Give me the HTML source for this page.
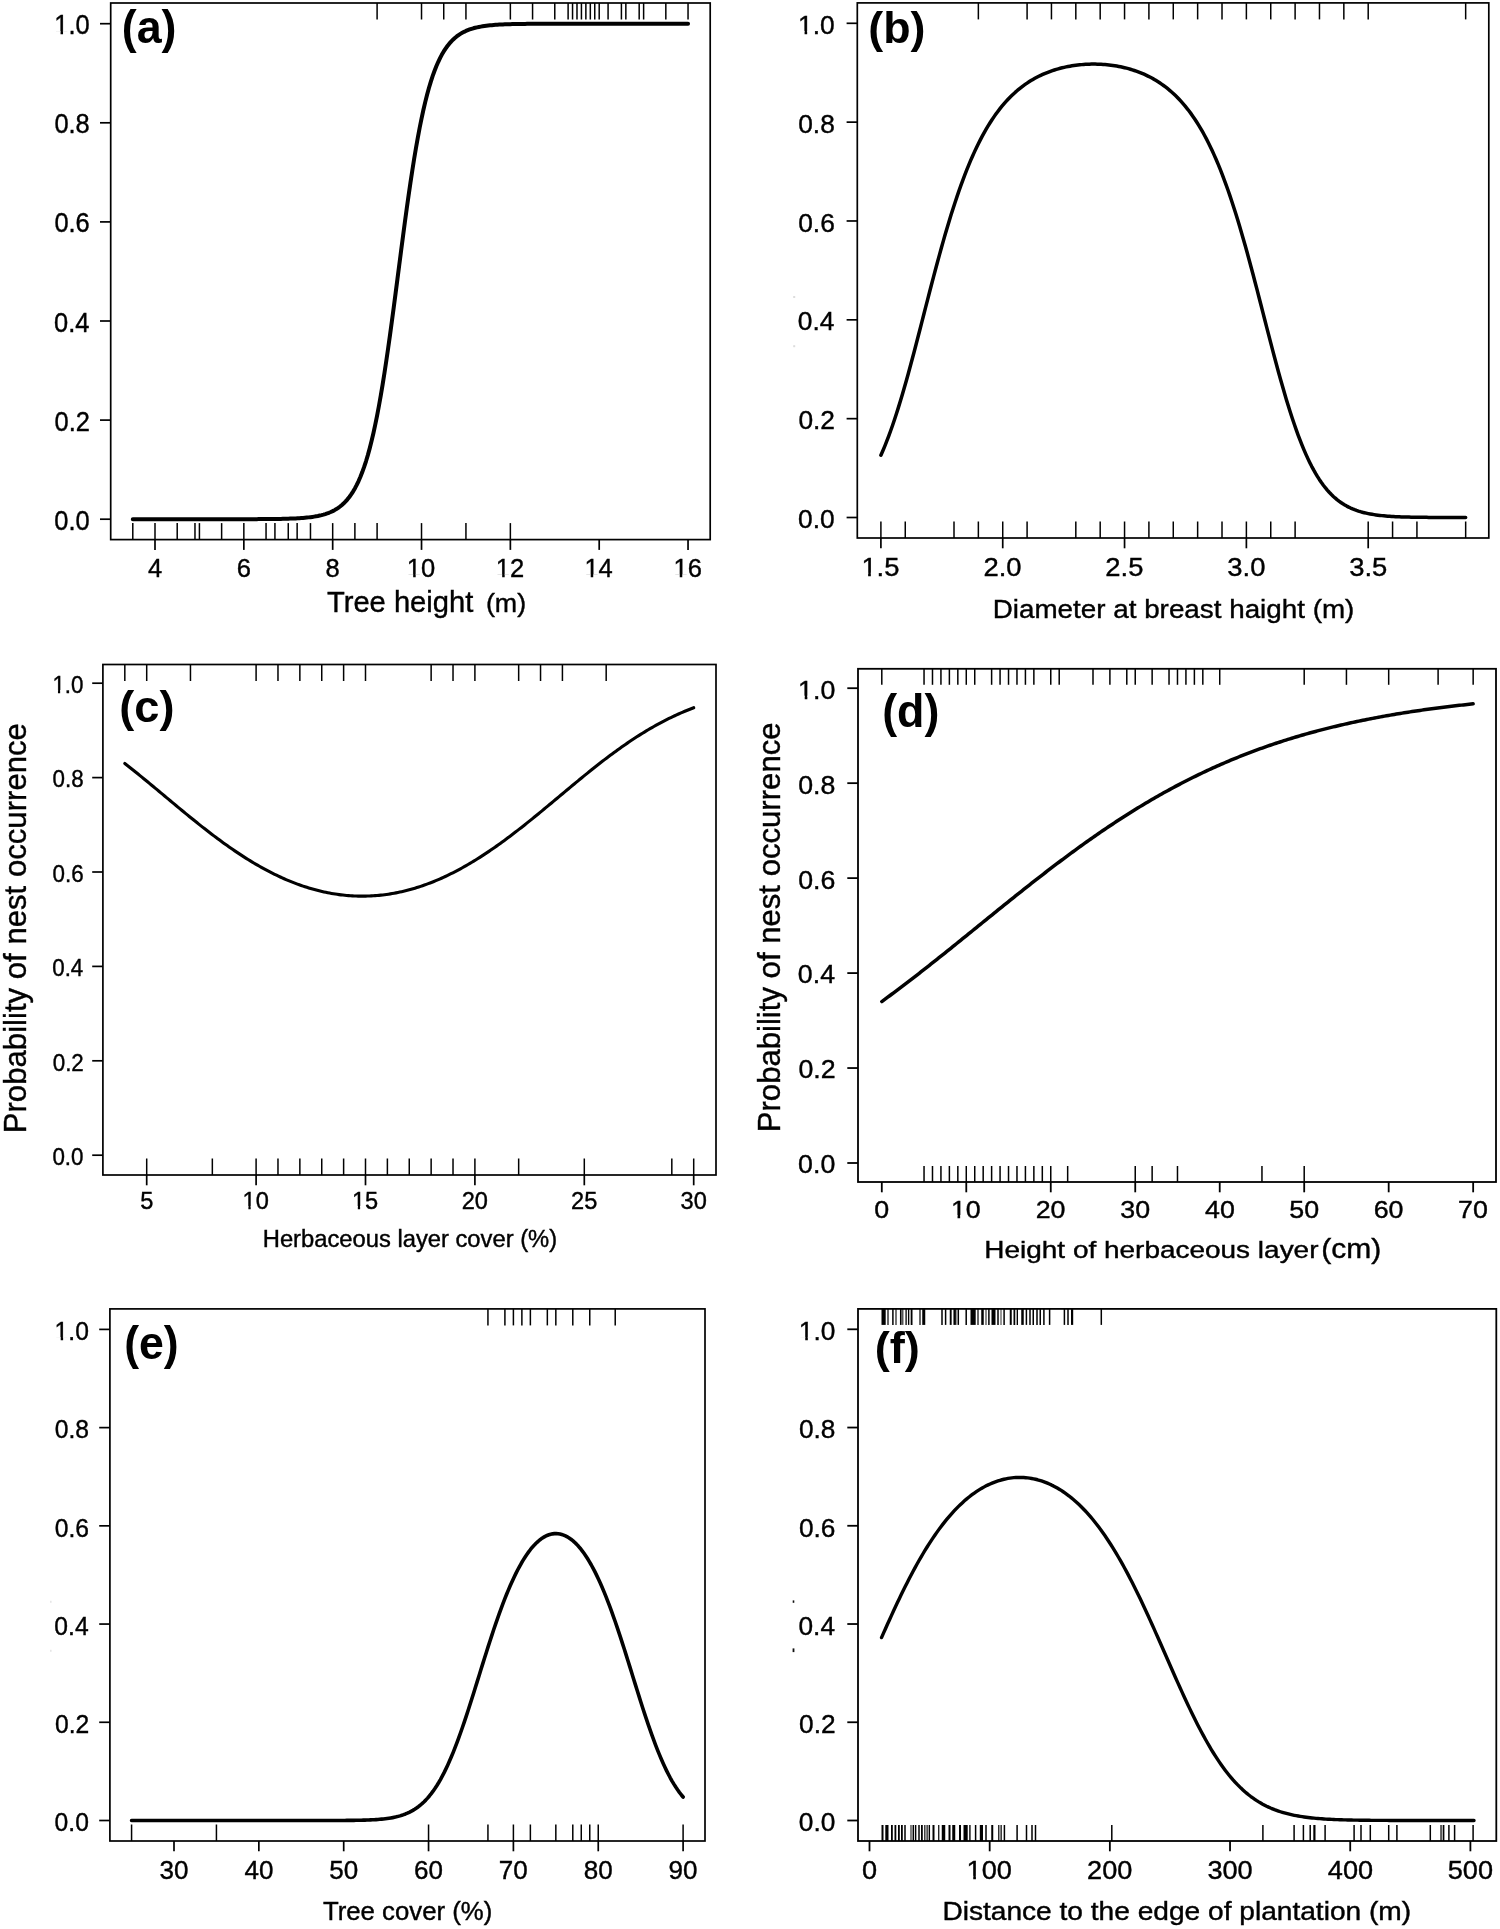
<!DOCTYPE html>
<html><head><meta charset="utf-8"><title>Probability of nest occurrence</title>
<style>
html,body{margin:0;padding:0;background:#fff;}
body{width:1500px;height:1929px;overflow:hidden;font-family:'Liberation Sans',sans-serif;}
svg{display:block;will-change:transform;opacity:0.999;}
text{fill:#000;}
</style></head><body>
<svg width="1500" height="1929" viewBox="0 0 1500 1929">
<rect x="0" y="0" width="1500" height="1929" fill="#fff"/>
<line x1="100" y1="519.2" x2="110.7" y2="519.2" stroke="#000" stroke-width="1.7" stroke-linecap="butt"/>
<text transform="translate(54.27 529.7) scale(0.9500 1)" style="font-family:'Liberation Sans',sans-serif;font-size:26.8px;font-weight:normal;stroke:#000;stroke-width:0.4px">0.0</text>
<line x1="100" y1="420.1" x2="110.7" y2="420.1" stroke="#000" stroke-width="1.7" stroke-linecap="butt"/>
<text transform="translate(54.58 430.6) scale(0.9500 1)" style="font-family:'Liberation Sans',sans-serif;font-size:26.8px;font-weight:normal;stroke:#000;stroke-width:0.4px">0.2</text>
<line x1="100" y1="321" x2="110.7" y2="321" stroke="#000" stroke-width="1.7" stroke-linecap="butt"/>
<text transform="translate(54.01 331.5) scale(0.9500 1)" style="font-family:'Liberation Sans',sans-serif;font-size:26.8px;font-weight:normal;stroke:#000;stroke-width:0.4px">0.4</text>
<line x1="100" y1="221.9" x2="110.7" y2="221.9" stroke="#000" stroke-width="1.7" stroke-linecap="butt"/>
<text transform="translate(54.39 232.4) scale(0.9500 1)" style="font-family:'Liberation Sans',sans-serif;font-size:26.8px;font-weight:normal;stroke:#000;stroke-width:0.4px">0.6</text>
<line x1="100" y1="122.8" x2="110.7" y2="122.8" stroke="#000" stroke-width="1.7" stroke-linecap="butt"/>
<text transform="translate(54.39 133.3) scale(0.9500 1)" style="font-family:'Liberation Sans',sans-serif;font-size:26.8px;font-weight:normal;stroke:#000;stroke-width:0.4px">0.8</text>
<line x1="100" y1="23.7" x2="110.7" y2="23.7" stroke="#000" stroke-width="1.7" stroke-linecap="butt"/>
<text transform="translate(54.27 34.2) scale(0.9500 1)" style="font-family:'Liberation Sans',sans-serif;font-size:26.8px;font-weight:normal;stroke:#000;stroke-width:0.4px">1.0</text>
<rect x="54.02" y="31.2" width="6.53" height="4.6" fill="#fff"/>
<rect x="63.04" y="31.2" width="5.21" height="4.6" fill="#fff"/>
<line x1="155" y1="539.6" x2="155" y2="549.9" stroke="#000" stroke-width="1.7" stroke-linecap="butt"/>
<text transform="translate(147.98 577.4) scale(0.9600 1)" style="font-family:'Liberation Sans',sans-serif;font-size:26.6px;font-weight:normal;stroke:#000;stroke-width:0.4px">4</text>
<line x1="243.84" y1="539.6" x2="243.84" y2="549.9" stroke="#000" stroke-width="1.7" stroke-linecap="butt"/>
<text transform="translate(236.66 577.4) scale(0.9600 1)" style="font-family:'Liberation Sans',sans-serif;font-size:26.6px;font-weight:normal;stroke:#000;stroke-width:0.4px">6</text>
<line x1="332.68" y1="539.6" x2="332.68" y2="549.9" stroke="#000" stroke-width="1.7" stroke-linecap="butt"/>
<text transform="translate(325.59 577.4) scale(0.9600 1)" style="font-family:'Liberation Sans',sans-serif;font-size:26.6px;font-weight:normal;stroke:#000;stroke-width:0.4px">8</text>
<line x1="421.52" y1="539.6" x2="421.52" y2="549.9" stroke="#000" stroke-width="1.7" stroke-linecap="butt"/>
<text transform="translate(406.87 577.4) scale(0.9600 1)" style="font-family:'Liberation Sans',sans-serif;font-size:26.6px;font-weight:normal;stroke:#000;stroke-width:0.4px">10</text>
<rect x="406.62" y="574.41" width="6.55" height="4.59" fill="#fff"/>
<rect x="415.67" y="574.41" width="5.22" height="4.59" fill="#fff"/>
<line x1="510.36" y1="539.6" x2="510.36" y2="549.9" stroke="#000" stroke-width="1.7" stroke-linecap="butt"/>
<text transform="translate(495.87 577.4) scale(0.9600 1)" style="font-family:'Liberation Sans',sans-serif;font-size:26.6px;font-weight:normal;stroke:#000;stroke-width:0.4px">12</text>
<rect x="495.62" y="574.41" width="6.55" height="4.59" fill="#fff"/>
<rect x="504.67" y="574.41" width="5.22" height="4.59" fill="#fff"/>
<line x1="599.2" y1="539.6" x2="599.2" y2="549.9" stroke="#000" stroke-width="1.7" stroke-linecap="butt"/>
<text transform="translate(584.42 577.4) scale(0.9600 1)" style="font-family:'Liberation Sans',sans-serif;font-size:26.6px;font-weight:normal;stroke:#000;stroke-width:0.4px">14</text>
<rect x="584.17" y="574.41" width="6.55" height="4.59" fill="#fff"/>
<rect x="593.22" y="574.41" width="5.22" height="4.59" fill="#fff"/>
<line x1="688.04" y1="539.6" x2="688.04" y2="549.9" stroke="#000" stroke-width="1.7" stroke-linecap="butt"/>
<text transform="translate(673.45 577.4) scale(0.9600 1)" style="font-family:'Liberation Sans',sans-serif;font-size:26.6px;font-weight:normal;stroke:#000;stroke-width:0.4px">16</text>
<rect x="673.2" y="574.41" width="6.55" height="4.59" fill="#fff"/>
<rect x="682.26" y="574.41" width="5.22" height="4.59" fill="#fff"/>
<line x1="377.1" y1="3" x2="377.1" y2="19.5" stroke="#000" stroke-width="1.5" stroke-linecap="butt"/>
<line x1="421.52" y1="3" x2="421.52" y2="19.5" stroke="#000" stroke-width="1.5" stroke-linecap="butt"/>
<line x1="443.73" y1="3" x2="443.73" y2="19.5" stroke="#000" stroke-width="1.5" stroke-linecap="butt"/>
<line x1="465.94" y1="3" x2="465.94" y2="19.5" stroke="#000" stroke-width="1.5" stroke-linecap="butt"/>
<line x1="510.36" y1="3" x2="510.36" y2="19.5" stroke="#000" stroke-width="1.5" stroke-linecap="butt"/>
<line x1="532.57" y1="3" x2="532.57" y2="19.5" stroke="#000" stroke-width="1.5" stroke-linecap="butt"/>
<line x1="554.78" y1="3" x2="554.78" y2="19.5" stroke="#000" stroke-width="1.5" stroke-linecap="butt"/>
<line x1="568.11" y1="3" x2="568.11" y2="19.5" stroke="#000" stroke-width="1.5" stroke-linecap="butt"/>
<line x1="572.55" y1="3" x2="572.55" y2="19.5" stroke="#000" stroke-width="1.5" stroke-linecap="butt"/>
<line x1="576.99" y1="3" x2="576.99" y2="19.5" stroke="#000" stroke-width="1.5" stroke-linecap="butt"/>
<line x1="581.43" y1="3" x2="581.43" y2="19.5" stroke="#000" stroke-width="1.5" stroke-linecap="butt"/>
<line x1="585.87" y1="3" x2="585.87" y2="19.5" stroke="#000" stroke-width="1.5" stroke-linecap="butt"/>
<line x1="590.32" y1="3" x2="590.32" y2="19.5" stroke="#000" stroke-width="1.5" stroke-linecap="butt"/>
<line x1="594.76" y1="3" x2="594.76" y2="19.5" stroke="#000" stroke-width="1.5" stroke-linecap="butt"/>
<line x1="599.2" y1="3" x2="599.2" y2="19.5" stroke="#000" stroke-width="1.5" stroke-linecap="butt"/>
<line x1="608.08" y1="3" x2="608.08" y2="19.5" stroke="#000" stroke-width="1.5" stroke-linecap="butt"/>
<line x1="621.41" y1="3" x2="621.41" y2="19.5" stroke="#000" stroke-width="1.5" stroke-linecap="butt"/>
<line x1="625.85" y1="3" x2="625.85" y2="19.5" stroke="#000" stroke-width="1.5" stroke-linecap="butt"/>
<line x1="639.18" y1="3" x2="639.18" y2="19.5" stroke="#000" stroke-width="1.5" stroke-linecap="butt"/>
<line x1="643.62" y1="3" x2="643.62" y2="19.5" stroke="#000" stroke-width="1.5" stroke-linecap="butt"/>
<line x1="665.83" y1="3" x2="665.83" y2="19.5" stroke="#000" stroke-width="1.5" stroke-linecap="butt"/>
<line x1="688.04" y1="3" x2="688.04" y2="19.5" stroke="#000" stroke-width="1.5" stroke-linecap="butt"/>
<line x1="132.79" y1="523.1" x2="132.79" y2="539.6" stroke="#000" stroke-width="1.5" stroke-linecap="butt"/>
<line x1="155" y1="523.1" x2="155" y2="539.6" stroke="#000" stroke-width="1.5" stroke-linecap="butt"/>
<line x1="177.21" y1="523.1" x2="177.21" y2="539.6" stroke="#000" stroke-width="1.5" stroke-linecap="butt"/>
<line x1="194.98" y1="523.1" x2="194.98" y2="539.6" stroke="#000" stroke-width="1.5" stroke-linecap="butt"/>
<line x1="199.42" y1="523.1" x2="199.42" y2="539.6" stroke="#000" stroke-width="1.5" stroke-linecap="butt"/>
<line x1="221.63" y1="523.1" x2="221.63" y2="539.6" stroke="#000" stroke-width="1.5" stroke-linecap="butt"/>
<line x1="243.84" y1="523.1" x2="243.84" y2="539.6" stroke="#000" stroke-width="1.5" stroke-linecap="butt"/>
<line x1="266.05" y1="523.1" x2="266.05" y2="539.6" stroke="#000" stroke-width="1.5" stroke-linecap="butt"/>
<line x1="274.93" y1="523.1" x2="274.93" y2="539.6" stroke="#000" stroke-width="1.5" stroke-linecap="butt"/>
<line x1="288.26" y1="523.1" x2="288.26" y2="539.6" stroke="#000" stroke-width="1.5" stroke-linecap="butt"/>
<line x1="297.14" y1="523.1" x2="297.14" y2="539.6" stroke="#000" stroke-width="1.5" stroke-linecap="butt"/>
<line x1="310.47" y1="523.1" x2="310.47" y2="539.6" stroke="#000" stroke-width="1.5" stroke-linecap="butt"/>
<line x1="332.68" y1="523.1" x2="332.68" y2="539.6" stroke="#000" stroke-width="1.5" stroke-linecap="butt"/>
<line x1="354.89" y1="523.1" x2="354.89" y2="539.6" stroke="#000" stroke-width="1.5" stroke-linecap="butt"/>
<line x1="377.1" y1="523.1" x2="377.1" y2="539.6" stroke="#000" stroke-width="1.5" stroke-linecap="butt"/>
<line x1="421.52" y1="523.1" x2="421.52" y2="539.6" stroke="#000" stroke-width="1.5" stroke-linecap="butt"/>
<line x1="465.94" y1="523.1" x2="465.94" y2="539.6" stroke="#000" stroke-width="1.5" stroke-linecap="butt"/>
<line x1="510.36" y1="523.1" x2="510.36" y2="539.6" stroke="#000" stroke-width="1.5" stroke-linecap="butt"/>
<polyline points="132.79,519.2 134.64,519.2 136.49,519.2 138.34,519.2 140.19,519.2 142.04,519.2 143.9,519.2 145.75,519.2 147.6,519.2 149.45,519.2 151.3,519.2 153.15,519.2 155,519.2 156.85,519.2 158.7,519.2 160.55,519.2 162.4,519.2 164.25,519.2 166.1,519.2 167.96,519.2 169.81,519.2 171.66,519.2 173.51,519.2 175.36,519.2 177.21,519.2 179.06,519.2 180.91,519.2 182.76,519.2 184.61,519.2 186.46,519.2 188.31,519.2 190.17,519.2 192.02,519.2 193.87,519.2 195.72,519.2 197.57,519.2 199.42,519.2 201.27,519.2 203.12,519.2 204.97,519.2 206.82,519.2 208.67,519.2 210.53,519.2 212.38,519.2 214.23,519.19 216.08,519.19 217.93,519.19 219.78,519.19 221.63,519.19 223.48,519.19 225.33,519.19 227.18,519.19 229.03,519.19 230.88,519.19 232.74,519.18 234.59,519.18 236.44,519.18 238.29,519.18 240.14,519.17 241.99,519.17 243.84,519.17 245.69,519.16 247.54,519.16 249.39,519.15 251.24,519.15 253.09,519.14 254.94,519.14 256.8,519.13 258.65,519.12 260.5,519.11 262.35,519.1 264.2,519.09 266.05,519.07 267.9,519.06 269.75,519.04 271.6,519.02 273.45,519 275.3,518.97 277.15,518.94 279.01,518.91 280.86,518.88 282.71,518.84 284.56,518.79 286.41,518.74 288.26,518.69 290.11,518.62 291.96,518.55 293.81,518.47 295.66,518.38 297.51,518.28 299.37,518.17 301.22,518.05 303.07,517.91 304.92,517.75 306.77,517.57 308.62,517.37 310.47,517.15 312.32,516.9 314.17,516.62 316.02,516.31 317.87,515.96 319.72,515.56 321.58,515.12 323.43,514.63 325.28,514.08 327.13,513.46 328.98,512.76 330.83,511.99 332.68,511.12 334.53,510.15 336.38,509.06 338.23,507.85 340.08,506.5 341.93,504.99 343.78,503.31 345.64,501.43 347.49,499.35 349.34,497.03 351.19,494.45 353.04,491.59 354.89,488.42 356.74,484.92 358.59,481.04 360.44,476.78 362.29,472.08 364.14,466.92 366,461.28 367.85,455.11 369.7,448.38 371.55,441.09 373.4,433.19 375.25,424.67 377.1,415.53 378.95,405.75 380.8,395.34 382.65,384.31 384.5,372.69 386.35,360.5 388.21,347.81 390.06,334.65 391.91,321.1 393.76,307.23 395.61,293.13 397.46,278.88 399.31,264.59 401.16,250.34 403.01,236.23 404.86,222.35 406.71,208.79 408.56,195.61 410.42,182.89 412.27,170.69 414.12,159.04 415.97,147.99 417.82,137.55 419.67,127.75 421.52,118.58 423.37,110.04 425.22,102.12 427.07,94.8 428.92,88.05 430.77,81.86 432.62,76.19 434.48,71.02 436.33,66.3 438.18,62.02 440.03,58.13 441.88,54.61 443.73,51.43 445.58,48.56 447.43,45.97 449.28,43.64 451.13,41.55 452.98,39.66 454.84,37.97 456.69,36.46 458.54,35.1 460.39,33.88 462.24,32.79 464.09,31.82 465.94,30.95 467.79,30.17 469.64,29.47 471.49,28.85 473.34,28.29 475.19,27.8 477.05,27.35 478.9,26.96 480.75,26.6 482.6,26.29 484.45,26.01 486.3,25.76 488.15,25.53 490,25.33 491.85,25.16 493.7,25 495.55,24.86 497.4,24.73 499.25,24.62 501.11,24.52 502.96,24.43 504.81,24.35 506.66,24.28 508.51,24.22 510.36,24.16 512.21,24.11 514.06,24.07 515.91,24.03 517.76,23.99 519.61,23.96 521.47,23.93 523.32,23.91 525.17,23.88 527.02,23.86 528.87,23.85 530.72,23.83 532.57,23.82 534.42,23.8 536.27,23.79 538.12,23.78 539.97,23.77 541.82,23.76 543.67,23.76 545.53,23.75 547.38,23.75 549.23,23.74 551.08,23.74 552.93,23.73 554.78,23.73 556.63,23.73 558.48,23.72 560.33,23.72 562.18,23.72 564.03,23.72 565.88,23.71 567.74,23.71 569.59,23.71 571.44,23.71 573.29,23.71 575.14,23.71 576.99,23.71 578.84,23.71 580.69,23.71 582.54,23.71 584.39,23.7 586.24,23.7 588.1,23.7 589.95,23.7 591.8,23.7 593.65,23.7 595.5,23.7 597.35,23.7 599.2,23.7 601.05,23.7 602.9,23.7 604.75,23.7 606.6,23.7 608.45,23.7 610.31,23.7 612.16,23.7 614.01,23.7 615.86,23.7 617.71,23.7 619.56,23.7 621.41,23.7 623.26,23.7 625.11,23.7 626.96,23.7 628.81,23.7 630.66,23.7 632.52,23.7 634.37,23.7 636.22,23.7 638.07,23.7 639.92,23.7 641.77,23.7 643.62,23.7 645.47,23.7 647.32,23.7 649.17,23.7 651.02,23.7 652.87,23.7 654.73,23.7 656.58,23.7 658.43,23.7 660.28,23.7 662.13,23.7 663.98,23.7 665.83,23.7 667.68,23.7 669.53,23.7 671.38,23.7 673.23,23.7 675.08,23.7 676.94,23.7 678.79,23.7 680.64,23.7 682.49,23.7 684.34,23.7 686.19,23.7 688.04,23.7" fill="none" stroke="#000" stroke-width="4" stroke-linecap="round" stroke-linejoin="round"/>
<rect x="110.7" y="3" width="599.5" height="536.6" fill="none" stroke="#000" stroke-width="1.7"/>
<text transform="translate(121.76 43.2) scale(0.9786 1)" style="font-family:'Liberation Sans',sans-serif;font-size:45.79px;font-weight:bold">(a)</text>
<text transform="translate(326.94 611.6) scale(0.9853 1)" style="font-family:'Liberation Sans',sans-serif;font-size:29.6px;font-weight:normal;stroke:#000;stroke-width:0.4px">Tree height</text>
<text transform="translate(485.92 611.6) scale(1.0312 1)" style="font-family:'Liberation Sans',sans-serif;font-size:26px;font-weight:normal;stroke:#000;stroke-width:0.4px">(m)</text>
<line x1="846.6" y1="517.5" x2="857.3" y2="517.5" stroke="#000" stroke-width="1.7" stroke-linecap="butt"/>
<text transform="translate(798.08 528.1) scale(0.9900 1)" style="font-family:'Liberation Sans',sans-serif;font-size:26.6px;font-weight:normal;stroke:#000;stroke-width:0.4px">0.0</text>
<line x1="846.6" y1="418.66" x2="857.3" y2="418.66" stroke="#000" stroke-width="1.7" stroke-linecap="butt"/>
<text transform="translate(798.41 429.26) scale(0.9900 1)" style="font-family:'Liberation Sans',sans-serif;font-size:26.6px;font-weight:normal;stroke:#000;stroke-width:0.4px">0.2</text>
<line x1="846.6" y1="319.82" x2="857.3" y2="319.82" stroke="#000" stroke-width="1.7" stroke-linecap="butt"/>
<text transform="translate(797.82 330.42) scale(0.9900 1)" style="font-family:'Liberation Sans',sans-serif;font-size:26.6px;font-weight:normal;stroke:#000;stroke-width:0.4px">0.4</text>
<line x1="846.6" y1="220.98" x2="857.3" y2="220.98" stroke="#000" stroke-width="1.7" stroke-linecap="butt"/>
<text transform="translate(798.21 231.58) scale(0.9900 1)" style="font-family:'Liberation Sans',sans-serif;font-size:26.6px;font-weight:normal;stroke:#000;stroke-width:0.4px">0.6</text>
<line x1="846.6" y1="122.14" x2="857.3" y2="122.14" stroke="#000" stroke-width="1.7" stroke-linecap="butt"/>
<text transform="translate(798.21 132.74) scale(0.9900 1)" style="font-family:'Liberation Sans',sans-serif;font-size:26.6px;font-weight:normal;stroke:#000;stroke-width:0.4px">0.8</text>
<line x1="846.6" y1="23.3" x2="857.3" y2="23.3" stroke="#000" stroke-width="1.7" stroke-linecap="butt"/>
<text transform="translate(798.08 33.9) scale(0.9900 1)" style="font-family:'Liberation Sans',sans-serif;font-size:26.6px;font-weight:normal;stroke:#000;stroke-width:0.4px">1.0</text>
<rect x="797.83" y="30.91" width="6.75" height="4.59" fill="#fff"/>
<rect x="807.16" y="30.91" width="5.39" height="4.59" fill="#fff"/>
<line x1="880.9" y1="538" x2="880.9" y2="548.3" stroke="#000" stroke-width="1.7" stroke-linecap="butt"/>
<text transform="translate(861.38 575.6) scale(1.0300 1)" style="font-family:'Liberation Sans',sans-serif;font-size:26.6px;font-weight:normal;stroke:#000;stroke-width:0.4px">1.5</text>
<rect x="861.11" y="572.61" width="7.02" height="4.59" fill="#fff"/>
<rect x="870.82" y="572.61" width="5.61" height="4.59" fill="#fff"/>
<line x1="1002.73" y1="538" x2="1002.73" y2="548.3" stroke="#000" stroke-width="1.7" stroke-linecap="butt"/>
<text transform="translate(983.51 575.6) scale(1.0300 1)" style="font-family:'Liberation Sans',sans-serif;font-size:26.6px;font-weight:normal;stroke:#000;stroke-width:0.4px">2.0</text>
<line x1="1124.55" y1="538" x2="1124.55" y2="548.3" stroke="#000" stroke-width="1.7" stroke-linecap="butt"/>
<text transform="translate(1105.37 575.6) scale(1.0300 1)" style="font-family:'Liberation Sans',sans-serif;font-size:26.6px;font-weight:normal;stroke:#000;stroke-width:0.4px">2.5</text>
<line x1="1246.38" y1="538" x2="1246.38" y2="548.3" stroke="#000" stroke-width="1.7" stroke-linecap="butt"/>
<text transform="translate(1227.33 575.6) scale(1.0300 1)" style="font-family:'Liberation Sans',sans-serif;font-size:26.6px;font-weight:normal;stroke:#000;stroke-width:0.4px">3.0</text>
<line x1="1368.2" y1="538" x2="1368.2" y2="548.3" stroke="#000" stroke-width="1.7" stroke-linecap="butt"/>
<text transform="translate(1349.19 575.6) scale(1.0300 1)" style="font-family:'Liberation Sans',sans-serif;font-size:26.6px;font-weight:normal;stroke:#000;stroke-width:0.4px">3.5</text>
<line x1="978.36" y1="2.9" x2="978.36" y2="19.4" stroke="#000" stroke-width="1.5" stroke-linecap="butt"/>
<line x1="1027.09" y1="2.9" x2="1027.09" y2="19.4" stroke="#000" stroke-width="1.5" stroke-linecap="butt"/>
<line x1="1051.45" y1="2.9" x2="1051.45" y2="19.4" stroke="#000" stroke-width="1.5" stroke-linecap="butt"/>
<line x1="1075.82" y1="2.9" x2="1075.82" y2="19.4" stroke="#000" stroke-width="1.5" stroke-linecap="butt"/>
<line x1="1100.18" y1="2.9" x2="1100.18" y2="19.4" stroke="#000" stroke-width="1.5" stroke-linecap="butt"/>
<line x1="1124.55" y1="2.9" x2="1124.55" y2="19.4" stroke="#000" stroke-width="1.5" stroke-linecap="butt"/>
<line x1="1148.91" y1="2.9" x2="1148.91" y2="19.4" stroke="#000" stroke-width="1.5" stroke-linecap="butt"/>
<line x1="1173.28" y1="2.9" x2="1173.28" y2="19.4" stroke="#000" stroke-width="1.5" stroke-linecap="butt"/>
<line x1="1197.64" y1="2.9" x2="1197.64" y2="19.4" stroke="#000" stroke-width="1.5" stroke-linecap="butt"/>
<line x1="1222.01" y1="2.9" x2="1222.01" y2="19.4" stroke="#000" stroke-width="1.5" stroke-linecap="butt"/>
<line x1="1246.38" y1="2.9" x2="1246.38" y2="19.4" stroke="#000" stroke-width="1.5" stroke-linecap="butt"/>
<line x1="1270.74" y1="2.9" x2="1270.74" y2="19.4" stroke="#000" stroke-width="1.5" stroke-linecap="butt"/>
<line x1="1295.11" y1="2.9" x2="1295.11" y2="19.4" stroke="#000" stroke-width="1.5" stroke-linecap="butt"/>
<line x1="1319.47" y1="2.9" x2="1319.47" y2="19.4" stroke="#000" stroke-width="1.5" stroke-linecap="butt"/>
<line x1="1343.84" y1="2.9" x2="1343.84" y2="19.4" stroke="#000" stroke-width="1.5" stroke-linecap="butt"/>
<line x1="1368.2" y1="2.9" x2="1368.2" y2="19.4" stroke="#000" stroke-width="1.5" stroke-linecap="butt"/>
<line x1="1465.66" y1="2.9" x2="1465.66" y2="19.4" stroke="#000" stroke-width="1.5" stroke-linecap="butt"/>
<line x1="880.9" y1="521.5" x2="880.9" y2="538" stroke="#000" stroke-width="1.5" stroke-linecap="butt"/>
<line x1="905.26" y1="521.5" x2="905.26" y2="538" stroke="#000" stroke-width="1.5" stroke-linecap="butt"/>
<line x1="954" y1="521.5" x2="954" y2="538" stroke="#000" stroke-width="1.5" stroke-linecap="butt"/>
<line x1="978.36" y1="521.5" x2="978.36" y2="538" stroke="#000" stroke-width="1.5" stroke-linecap="butt"/>
<line x1="1002.73" y1="521.5" x2="1002.73" y2="538" stroke="#000" stroke-width="1.5" stroke-linecap="butt"/>
<line x1="1027.09" y1="521.5" x2="1027.09" y2="538" stroke="#000" stroke-width="1.5" stroke-linecap="butt"/>
<line x1="1075.82" y1="521.5" x2="1075.82" y2="538" stroke="#000" stroke-width="1.5" stroke-linecap="butt"/>
<line x1="1100.18" y1="521.5" x2="1100.18" y2="538" stroke="#000" stroke-width="1.5" stroke-linecap="butt"/>
<line x1="1124.55" y1="521.5" x2="1124.55" y2="538" stroke="#000" stroke-width="1.5" stroke-linecap="butt"/>
<line x1="1148.91" y1="521.5" x2="1148.91" y2="538" stroke="#000" stroke-width="1.5" stroke-linecap="butt"/>
<line x1="1173.28" y1="521.5" x2="1173.28" y2="538" stroke="#000" stroke-width="1.5" stroke-linecap="butt"/>
<line x1="1197.64" y1="521.5" x2="1197.64" y2="538" stroke="#000" stroke-width="1.5" stroke-linecap="butt"/>
<line x1="1222.01" y1="521.5" x2="1222.01" y2="538" stroke="#000" stroke-width="1.5" stroke-linecap="butt"/>
<line x1="1246.38" y1="521.5" x2="1246.38" y2="538" stroke="#000" stroke-width="1.5" stroke-linecap="butt"/>
<line x1="1270.74" y1="521.5" x2="1270.74" y2="538" stroke="#000" stroke-width="1.5" stroke-linecap="butt"/>
<line x1="1295.11" y1="521.5" x2="1295.11" y2="538" stroke="#000" stroke-width="1.5" stroke-linecap="butt"/>
<line x1="1368.2" y1="521.5" x2="1368.2" y2="538" stroke="#000" stroke-width="1.5" stroke-linecap="butt"/>
<line x1="1392.57" y1="521.5" x2="1392.57" y2="538" stroke="#000" stroke-width="1.5" stroke-linecap="butt"/>
<line x1="1416.93" y1="521.5" x2="1416.93" y2="538" stroke="#000" stroke-width="1.5" stroke-linecap="butt"/>
<line x1="1465.66" y1="521.5" x2="1465.66" y2="538" stroke="#000" stroke-width="1.5" stroke-linecap="butt"/>
<polyline points="880.9,455.19 882.85,450.75 884.8,446.09 886.75,441.2 888.7,436.09 890.65,430.77 892.6,425.23 894.54,419.48 896.49,413.52 898.44,407.37 900.39,401.02 902.34,394.49 904.29,387.8 906.24,380.94 908.19,373.94 910.14,366.81 912.09,359.56 914.04,352.21 915.99,344.77 917.93,337.27 919.88,329.72 921.83,322.14 923.78,314.54 925.73,306.94 927.68,299.35 929.63,291.81 931.58,284.31 933.53,276.87 935.48,269.52 937.43,262.25 939.38,255.09 941.33,248.04 943.27,241.12 945.22,234.34 947.17,227.69 949.12,221.2 951.07,214.86 953.02,208.69 954.97,202.67 956.92,196.83 958.87,191.15 960.82,185.65 962.77,180.31 964.72,175.15 966.66,170.16 968.61,165.34 970.56,160.69 972.51,156.21 974.46,151.88 976.41,147.72 978.36,143.71 980.31,139.86 982.26,136.16 984.21,132.6 986.16,129.19 988.11,125.91 990.06,122.76 992,119.75 993.95,116.86 995.9,114.09 997.85,111.44 999.8,108.9 1001.75,106.46 1003.7,104.14 1005.65,101.91 1007.6,99.78 1009.55,97.75 1011.5,95.8 1013.45,93.94 1015.39,92.17 1017.34,90.47 1019.29,88.85 1021.24,87.31 1023.19,85.83 1025.14,84.43 1027.09,83.09 1029.04,81.81 1030.99,80.59 1032.94,79.44 1034.89,78.33 1036.84,77.29 1038.79,76.29 1040.73,75.34 1042.68,74.45 1044.63,73.59 1046.58,72.79 1048.53,72.03 1050.48,71.31 1052.43,70.63 1054.38,69.99 1056.33,69.38 1058.28,68.82 1060.23,68.29 1062.18,67.8 1064.12,67.34 1066.07,66.91 1068.02,66.52 1069.97,66.16 1071.92,65.83 1073.87,65.53 1075.82,65.26 1077.77,65.01 1079.72,64.8 1081.67,64.62 1083.62,64.46 1085.57,64.34 1087.52,64.24 1089.46,64.17 1091.41,64.12 1093.36,64.1 1095.31,64.11 1097.26,64.15 1099.21,64.22 1101.16,64.31 1103.11,64.43 1105.06,64.58 1107.01,64.75 1108.96,64.96 1110.91,65.19 1112.85,65.46 1114.8,65.75 1116.75,66.07 1118.7,66.43 1120.65,66.81 1122.6,67.23 1124.55,67.68 1126.5,68.16 1128.45,68.68 1130.4,69.24 1132.35,69.83 1134.3,70.46 1136.25,71.13 1138.19,71.84 1140.14,72.59 1142.09,73.39 1144.04,74.23 1145.99,75.11 1147.94,76.05 1149.89,77.03 1151.84,78.07 1153.79,79.15 1155.74,80.3 1157.69,81.5 1159.64,82.76 1161.58,84.09 1163.53,85.48 1165.48,86.93 1167.43,88.46 1169.38,90.06 1171.33,91.74 1173.28,93.49 1175.23,95.33 1177.18,97.25 1179.13,99.27 1181.08,101.37 1183.03,103.57 1184.98,105.87 1186.92,108.28 1188.87,110.79 1190.82,113.41 1192.77,116.15 1194.72,119.01 1196.67,122 1198.62,125.11 1200.57,128.35 1202.52,131.73 1204.47,135.26 1206.42,138.92 1208.37,142.74 1210.31,146.7 1212.26,150.83 1214.21,155.11 1216.16,159.56 1218.11,164.17 1220.06,168.94 1222.01,173.89 1223.96,179.01 1225.91,184.3 1227.86,189.76 1229.81,195.39 1231.76,201.2 1233.71,207.17 1235.65,213.3 1237.6,219.6 1239.55,226.06 1241.5,232.66 1243.45,239.41 1245.4,246.3 1247.35,253.32 1249.3,260.45 1251.25,267.69 1253.2,275.03 1255.15,282.44 1257.1,289.93 1259.04,297.46 1260.99,305.04 1262.94,312.64 1264.89,320.24 1266.84,327.83 1268.79,335.39 1270.74,342.9 1272.69,350.36 1274.64,357.73 1276.59,365 1278.54,372.17 1280.49,379.2 1282.44,386.1 1284.38,392.83 1286.33,399.41 1288.28,405.8 1290.23,412 1292.18,418.01 1294.13,423.81 1296.08,429.41 1298.03,434.78 1299.98,439.94 1301.93,444.88 1303.88,449.6 1305.83,454.1 1307.77,458.38 1309.72,462.45 1311.67,466.3 1313.62,469.94 1315.57,473.38 1317.52,476.62 1319.47,479.67 1321.42,482.53 1323.37,485.21 1325.32,487.72 1327.27,490.07 1329.22,492.26 1331.17,494.3 1333.11,496.19 1335.06,497.95 1337.01,499.59 1338.96,501.1 1340.91,502.5 1342.86,503.8 1344.81,504.99 1346.76,506.09 1348.71,507.11 1350.66,508.04 1352.61,508.89 1354.56,509.68 1356.5,510.4 1358.45,511.06 1360.4,511.66 1362.35,512.21 1364.3,512.71 1366.25,513.17 1368.2,513.59 1370.15,513.97 1372.1,514.32 1374.05,514.63 1376,514.92 1377.95,515.18 1379.9,515.41 1381.84,515.62 1383.79,515.81 1385.74,515.99 1387.69,516.14 1389.64,516.29 1391.59,516.41 1393.54,516.53 1395.49,516.63 1397.44,516.72 1399.39,516.81 1401.34,516.88 1403.29,516.95 1405.23,517.01 1407.18,517.06 1409.13,517.11 1411.08,517.16 1413.03,517.19 1414.98,517.23 1416.93,517.26 1418.88,517.29 1420.83,517.31 1422.78,517.33 1424.73,517.35 1426.68,517.37 1428.63,517.39 1430.57,517.4 1432.52,517.41 1434.47,517.42 1436.42,517.43 1438.37,517.44 1440.32,517.45 1442.27,517.45 1444.22,517.46 1446.17,517.46 1448.12,517.47 1450.07,517.47 1452.02,517.48 1453.96,517.48 1455.91,517.48 1457.86,517.48 1459.81,517.49 1461.76,517.49 1463.71,517.49 1465.66,517.49" fill="none" stroke="#000" stroke-width="3.5" stroke-linecap="round" stroke-linejoin="round"/>
<rect x="857.3" y="2.9" width="631.5" height="535.1" fill="none" stroke="#000" stroke-width="1.7"/>
<text transform="translate(868.26 42.91) scale(0.9909 1)" style="font-family:'Liberation Sans',sans-serif;font-size:45.25px;font-weight:bold">(b)</text>
<text transform="translate(992.71 617.6) scale(1.0536 1)" style="font-family:'Liberation Sans',sans-serif;font-size:26.4px;font-weight:normal;stroke:#000;stroke-width:0.4px">Diameter at breast haight (m)</text>
<line x1="92.2" y1="1155.2" x2="102.9" y2="1155.2" stroke="#000" stroke-width="1.7" stroke-linecap="butt"/>
<text transform="translate(52.44 1164.9) scale(0.9400 1)" style="font-family:'Liberation Sans',sans-serif;font-size:23.8px;font-weight:normal;stroke:#000;stroke-width:0.4px">0.0</text>
<line x1="92.2" y1="1060.8" x2="102.9" y2="1060.8" stroke="#000" stroke-width="1.7" stroke-linecap="butt"/>
<text transform="translate(52.72 1070.5) scale(0.9400 1)" style="font-family:'Liberation Sans',sans-serif;font-size:23.8px;font-weight:normal;stroke:#000;stroke-width:0.4px">0.2</text>
<line x1="92.2" y1="966.4" x2="102.9" y2="966.4" stroke="#000" stroke-width="1.7" stroke-linecap="butt"/>
<text transform="translate(52.22 976.1) scale(0.9400 1)" style="font-family:'Liberation Sans',sans-serif;font-size:23.8px;font-weight:normal;stroke:#000;stroke-width:0.4px">0.4</text>
<line x1="92.2" y1="872" x2="102.9" y2="872" stroke="#000" stroke-width="1.7" stroke-linecap="butt"/>
<text transform="translate(52.55 881.7) scale(0.9400 1)" style="font-family:'Liberation Sans',sans-serif;font-size:23.8px;font-weight:normal;stroke:#000;stroke-width:0.4px">0.6</text>
<line x1="92.2" y1="777.6" x2="102.9" y2="777.6" stroke="#000" stroke-width="1.7" stroke-linecap="butt"/>
<text transform="translate(52.55 787.3) scale(0.9400 1)" style="font-family:'Liberation Sans',sans-serif;font-size:23.8px;font-weight:normal;stroke:#000;stroke-width:0.4px">0.8</text>
<line x1="92.2" y1="683.2" x2="102.9" y2="683.2" stroke="#000" stroke-width="1.7" stroke-linecap="butt"/>
<text transform="translate(52.44 692.9) scale(0.9400 1)" style="font-family:'Liberation Sans',sans-serif;font-size:23.8px;font-weight:normal;stroke:#000;stroke-width:0.4px">1.0</text>
<rect x="52.22" y="690.12" width="5.74" height="4.38" fill="#fff"/>
<rect x="60.15" y="690.12" width="4.58" height="4.38" fill="#fff"/>
<line x1="146.7" y1="1175" x2="146.7" y2="1185.3" stroke="#000" stroke-width="1.7" stroke-linecap="butt"/>
<text transform="translate(140.15 1208.8)" style="font-family:'Liberation Sans',sans-serif;font-size:23.6px;font-weight:normal;stroke:#000;stroke-width:0.4px">5</text>
<line x1="256.1" y1="1175" x2="256.1" y2="1185.3" stroke="#000" stroke-width="1.7" stroke-linecap="butt"/>
<text transform="translate(242.56 1208.8)" style="font-family:'Liberation Sans',sans-serif;font-size:23.6px;font-weight:normal;stroke:#000;stroke-width:0.4px">10</text>
<rect x="242.33" y="1206.04" width="6.05" height="4.36" fill="#fff"/>
<rect x="250.7" y="1206.04" width="4.83" height="4.36" fill="#fff"/>
<line x1="365.5" y1="1175" x2="365.5" y2="1185.3" stroke="#000" stroke-width="1.7" stroke-linecap="butt"/>
<text transform="translate(351.99 1208.8)" style="font-family:'Liberation Sans',sans-serif;font-size:23.6px;font-weight:normal;stroke:#000;stroke-width:0.4px">15</text>
<rect x="351.76" y="1206.04" width="6.05" height="4.36" fill="#fff"/>
<rect x="360.12" y="1206.04" width="4.83" height="4.36" fill="#fff"/>
<line x1="474.9" y1="1175" x2="474.9" y2="1185.3" stroke="#000" stroke-width="1.7" stroke-linecap="butt"/>
<text transform="translate(461.65 1208.8)" style="font-family:'Liberation Sans',sans-serif;font-size:23.6px;font-weight:normal;stroke:#000;stroke-width:0.4px">20</text>
<line x1="584.3" y1="1175" x2="584.3" y2="1185.3" stroke="#000" stroke-width="1.7" stroke-linecap="butt"/>
<text transform="translate(571.08 1208.8)" style="font-family:'Liberation Sans',sans-serif;font-size:23.6px;font-weight:normal;stroke:#000;stroke-width:0.4px">25</text>
<line x1="693.7" y1="1175" x2="693.7" y2="1185.3" stroke="#000" stroke-width="1.7" stroke-linecap="butt"/>
<text transform="translate(680.6 1208.8)" style="font-family:'Liberation Sans',sans-serif;font-size:23.6px;font-weight:normal;stroke:#000;stroke-width:0.4px">30</text>
<line x1="124.82" y1="664.5" x2="124.82" y2="681" stroke="#000" stroke-width="1.5" stroke-linecap="butt"/>
<line x1="146.7" y1="664.5" x2="146.7" y2="681" stroke="#000" stroke-width="1.5" stroke-linecap="butt"/>
<line x1="190.46" y1="664.5" x2="190.46" y2="681" stroke="#000" stroke-width="1.5" stroke-linecap="butt"/>
<line x1="256.1" y1="664.5" x2="256.1" y2="681" stroke="#000" stroke-width="1.5" stroke-linecap="butt"/>
<line x1="277.98" y1="664.5" x2="277.98" y2="681" stroke="#000" stroke-width="1.5" stroke-linecap="butt"/>
<line x1="299.86" y1="664.5" x2="299.86" y2="681" stroke="#000" stroke-width="1.5" stroke-linecap="butt"/>
<line x1="321.74" y1="664.5" x2="321.74" y2="681" stroke="#000" stroke-width="1.5" stroke-linecap="butt"/>
<line x1="343.62" y1="664.5" x2="343.62" y2="681" stroke="#000" stroke-width="1.5" stroke-linecap="butt"/>
<line x1="365.5" y1="664.5" x2="365.5" y2="681" stroke="#000" stroke-width="1.5" stroke-linecap="butt"/>
<line x1="431.14" y1="664.5" x2="431.14" y2="681" stroke="#000" stroke-width="1.5" stroke-linecap="butt"/>
<line x1="453.02" y1="664.5" x2="453.02" y2="681" stroke="#000" stroke-width="1.5" stroke-linecap="butt"/>
<line x1="474.9" y1="664.5" x2="474.9" y2="681" stroke="#000" stroke-width="1.5" stroke-linecap="butt"/>
<line x1="518.66" y1="664.5" x2="518.66" y2="681" stroke="#000" stroke-width="1.5" stroke-linecap="butt"/>
<line x1="540.54" y1="664.5" x2="540.54" y2="681" stroke="#000" stroke-width="1.5" stroke-linecap="butt"/>
<line x1="562.42" y1="664.5" x2="562.42" y2="681" stroke="#000" stroke-width="1.5" stroke-linecap="butt"/>
<line x1="606.18" y1="664.5" x2="606.18" y2="681" stroke="#000" stroke-width="1.5" stroke-linecap="butt"/>
<line x1="146.7" y1="1158.5" x2="146.7" y2="1175" stroke="#000" stroke-width="1.5" stroke-linecap="butt"/>
<line x1="212.34" y1="1158.5" x2="212.34" y2="1175" stroke="#000" stroke-width="1.5" stroke-linecap="butt"/>
<line x1="256.1" y1="1158.5" x2="256.1" y2="1175" stroke="#000" stroke-width="1.5" stroke-linecap="butt"/>
<line x1="277.98" y1="1158.5" x2="277.98" y2="1175" stroke="#000" stroke-width="1.5" stroke-linecap="butt"/>
<line x1="299.86" y1="1158.5" x2="299.86" y2="1175" stroke="#000" stroke-width="1.5" stroke-linecap="butt"/>
<line x1="321.74" y1="1158.5" x2="321.74" y2="1175" stroke="#000" stroke-width="1.5" stroke-linecap="butt"/>
<line x1="343.62" y1="1158.5" x2="343.62" y2="1175" stroke="#000" stroke-width="1.5" stroke-linecap="butt"/>
<line x1="365.5" y1="1158.5" x2="365.5" y2="1175" stroke="#000" stroke-width="1.5" stroke-linecap="butt"/>
<line x1="387.38" y1="1158.5" x2="387.38" y2="1175" stroke="#000" stroke-width="1.5" stroke-linecap="butt"/>
<line x1="409.26" y1="1158.5" x2="409.26" y2="1175" stroke="#000" stroke-width="1.5" stroke-linecap="butt"/>
<line x1="431.14" y1="1158.5" x2="431.14" y2="1175" stroke="#000" stroke-width="1.5" stroke-linecap="butt"/>
<line x1="453.02" y1="1158.5" x2="453.02" y2="1175" stroke="#000" stroke-width="1.5" stroke-linecap="butt"/>
<line x1="474.9" y1="1158.5" x2="474.9" y2="1175" stroke="#000" stroke-width="1.5" stroke-linecap="butt"/>
<line x1="518.66" y1="1158.5" x2="518.66" y2="1175" stroke="#000" stroke-width="1.5" stroke-linecap="butt"/>
<line x1="584.3" y1="1158.5" x2="584.3" y2="1175" stroke="#000" stroke-width="1.5" stroke-linecap="butt"/>
<line x1="671.82" y1="1158.5" x2="671.82" y2="1175" stroke="#000" stroke-width="1.5" stroke-linecap="butt"/>
<line x1="693.7" y1="1158.5" x2="693.7" y2="1175" stroke="#000" stroke-width="1.5" stroke-linecap="butt"/>
<polyline points="124.82,763.47 126.72,764.96 128.61,766.45 130.51,767.95 132.41,769.46 134.3,770.98 136.2,772.51 138.09,774.04 139.99,775.58 141.89,777.13 143.78,778.68 145.68,780.24 147.58,781.8 149.47,783.37 151.37,784.94 153.26,786.51 155.16,788.09 157.06,789.67 158.95,791.25 160.85,792.84 162.75,794.42 164.64,796.01 166.54,797.59 168.43,799.18 170.33,800.76 172.23,802.34 174.12,803.93 176.02,805.5 177.92,807.08 179.81,808.65 181.71,810.22 183.6,811.78 185.5,813.34 187.4,814.9 189.29,816.45 191.19,817.99 193.09,819.53 194.98,821.06 196.88,822.58 198.77,824.09 200.67,825.6 202.57,827.1 204.46,828.58 206.36,830.06 208.26,831.53 210.15,832.99 212.05,834.44 213.94,835.88 215.84,837.3 217.74,838.72 219.63,840.12 221.53,841.51 223.43,842.89 225.32,844.25 227.22,845.6 229.11,846.94 231.01,848.26 232.91,849.57 234.8,850.87 236.7,852.15 238.6,853.41 240.49,854.66 242.39,855.9 244.28,857.11 246.18,858.32 248.08,859.5 249.97,860.67 251.87,861.83 253.77,862.96 255.66,864.08 257.56,865.19 259.45,866.27 261.35,867.34 263.25,868.39 265.14,869.42 267.04,870.44 268.94,871.43 270.83,872.41 272.73,873.37 274.63,874.31 276.52,875.23 278.42,876.13 280.31,877.02 282.21,877.88 284.11,878.73 286,879.56 287.9,880.36 289.8,881.15 291.69,881.92 293.59,882.67 295.48,883.4 297.38,884.11 299.28,884.8 301.17,885.47 303.07,886.12 304.97,886.75 306.86,887.35 308.76,887.94 310.65,888.51 312.55,889.06 314.45,889.59 316.34,890.1 318.24,890.59 320.14,891.06 322.03,891.5 323.93,891.93 325.82,892.34 327.72,892.72 329.62,893.09 331.51,893.43 333.41,893.76 335.31,894.06 337.2,894.34 339.1,894.61 340.99,894.85 342.89,895.07 344.79,895.27 346.68,895.45 348.58,895.61 350.48,895.75 352.37,895.87 354.27,895.96 356.16,896.04 358.06,896.1 359.96,896.13 361.85,896.15 363.75,896.14 365.65,896.11 367.54,896.06 369.44,896 371.33,895.91 373.23,895.8 375.13,895.67 377.02,895.51 378.92,895.34 380.82,895.15 382.71,894.94 384.61,894.7 386.5,894.45 388.4,894.17 390.3,893.88 392.19,893.56 394.09,893.22 395.99,892.87 397.88,892.49 399.78,892.09 401.67,891.67 403.57,891.23 405.47,890.77 407.36,890.29 409.26,889.79 411.16,889.27 413.05,888.73 414.95,888.17 416.85,887.58 418.74,886.98 420.64,886.36 422.53,885.72 424.43,885.06 426.33,884.37 428.22,883.67 430.12,882.95 432.02,882.21 433.91,881.45 435.81,880.67 437.7,879.87 439.6,879.05 441.5,878.21 443.39,877.35 445.29,876.48 447.19,875.58 449.08,874.67 450.98,873.73 452.87,872.78 454.77,871.81 456.67,870.82 458.56,869.81 460.46,868.79 462.36,867.75 464.25,866.69 466.15,865.61 468.04,864.51 469.94,863.4 471.84,862.27 473.73,861.12 475.63,859.96 477.53,858.78 479.42,857.58 481.32,856.37 483.21,855.14 485.11,853.89 487.01,852.63 488.9,851.36 490.8,850.07 492.7,848.77 494.59,847.45 496.49,846.12 498.38,844.77 500.28,843.41 502.18,842.04 504.07,840.65 505.97,839.26 507.87,837.85 509.76,836.43 511.66,834.99 513.55,833.55 515.45,832.09 517.35,830.63 519.24,829.15 521.14,827.67 523.04,826.17 524.93,824.67 526.83,823.16 528.72,821.64 530.62,820.12 532.52,818.58 534.41,817.04 536.31,815.5 538.21,813.94 540.1,812.39 542,810.82 543.89,809.26 545.79,807.68 547.69,806.11 549.58,804.53 551.48,802.95 553.38,801.37 555.27,799.79 557.17,798.2 559.07,796.62 560.96,795.03 562.86,793.45 564.75,791.86 566.65,790.28 568.55,788.7 570.44,787.12 572.34,785.54 574.24,783.97 576.13,782.4 578.03,780.84 579.92,779.28 581.82,777.72 583.72,776.17 585.61,774.63 587.51,773.1 589.41,771.57 591.3,770.04 593.2,768.53 595.09,767.03 596.99,765.53 598.89,764.04 600.78,762.57 602.68,761.1 604.58,759.64 606.47,758.2 608.37,756.76 610.26,755.34 612.16,753.93 614.06,752.53 615.95,751.14 617.85,749.77 619.75,748.41 621.64,747.06 623.54,745.73 625.43,744.41 627.33,743.11 629.23,741.82 631.12,740.55 633.02,739.29 634.92,738.04 636.81,736.82 638.71,735.61 640.6,734.41 642.5,733.23 644.4,732.07 646.29,730.92 648.19,729.79 650.09,728.67 651.98,727.58 653.88,726.5 655.77,725.43 657.67,724.38 659.57,723.36 661.46,722.34 663.36,721.35 665.26,720.37 667.15,719.41 669.05,718.46 670.94,717.54 672.84,716.62 674.74,715.73 676.63,714.85 678.53,714 680.43,713.15 682.32,712.33 684.22,711.52 686.11,710.72 688.01,709.95 689.91,709.19 691.8,708.44 693.7,707.71" fill="none" stroke="#000" stroke-width="3.1" stroke-linecap="round" stroke-linejoin="round"/>
<rect x="102.9" y="664.5" width="613.1" height="510.5" fill="none" stroke="#000" stroke-width="1.7"/>
<text transform="translate(119.34 721.91) scale(0.9981 1)" style="font-family:'Liberation Sans',sans-serif;font-size:45.25px;font-weight:bold">(c)</text>
<text transform="translate(262.74 1247) scale(1.0201 1)" style="font-family:'Liberation Sans',sans-serif;font-size:23.3px;font-weight:normal;stroke:#000;stroke-width:0.4px">Herbaceous layer cover (%)</text>
<text transform="translate(25.6 1133.27) rotate(-90) scale(0.9643 1)" style="font-family:'Liberation Sans',sans-serif;font-size:32.3px;font-weight:normal;stroke:#000;stroke-width:0.4px">Probability of nest occurrence</text>
<line x1="847.3" y1="1163" x2="858" y2="1163" stroke="#000" stroke-width="1.8" stroke-linecap="butt"/>
<text transform="translate(798.12 1173.4) scale(1.0450 1)" style="font-family:'Liberation Sans',sans-serif;font-size:25.6px;font-weight:normal;stroke:#000;stroke-width:0.4px">0.0</text>
<line x1="847.3" y1="1068.04" x2="858" y2="1068.04" stroke="#000" stroke-width="1.8" stroke-linecap="butt"/>
<text transform="translate(798.45 1078.44) scale(1.0450 1)" style="font-family:'Liberation Sans',sans-serif;font-size:25.6px;font-weight:normal;stroke:#000;stroke-width:0.4px">0.2</text>
<line x1="847.3" y1="973.08" x2="858" y2="973.08" stroke="#000" stroke-width="1.8" stroke-linecap="butt"/>
<text transform="translate(797.85 983.48) scale(1.0450 1)" style="font-family:'Liberation Sans',sans-serif;font-size:25.6px;font-weight:normal;stroke:#000;stroke-width:0.4px">0.4</text>
<line x1="847.3" y1="878.12" x2="858" y2="878.12" stroke="#000" stroke-width="1.8" stroke-linecap="butt"/>
<text transform="translate(798.25 888.52) scale(1.0450 1)" style="font-family:'Liberation Sans',sans-serif;font-size:25.6px;font-weight:normal;stroke:#000;stroke-width:0.4px">0.6</text>
<line x1="847.3" y1="783.16" x2="858" y2="783.16" stroke="#000" stroke-width="1.8" stroke-linecap="butt"/>
<text transform="translate(798.25 793.56) scale(1.0450 1)" style="font-family:'Liberation Sans',sans-serif;font-size:25.6px;font-weight:normal;stroke:#000;stroke-width:0.4px">0.8</text>
<line x1="847.3" y1="688.2" x2="858" y2="688.2" stroke="#000" stroke-width="1.8" stroke-linecap="butt"/>
<text transform="translate(798.12 698.6) scale(1.0450 1)" style="font-family:'Liberation Sans',sans-serif;font-size:25.6px;font-weight:normal;stroke:#000;stroke-width:0.4px">1.0</text>
<rect x="797.86" y="695.69" width="6.86" height="4.51" fill="#fff"/>
<rect x="807.34" y="695.69" width="5.47" height="4.51" fill="#fff"/>
<line x1="881.8" y1="1182" x2="881.8" y2="1192.3" stroke="#000" stroke-width="1.8" stroke-linecap="butt"/>
<text transform="translate(874.33 1218) scale(1.0800 1)" style="font-family:'Liberation Sans',sans-serif;font-size:24.8px;font-weight:normal;stroke:#000;stroke-width:0.4px">0</text>
<line x1="966.28" y1="1182" x2="966.28" y2="1192.3" stroke="#000" stroke-width="1.8" stroke-linecap="butt"/>
<text transform="translate(950.91 1218) scale(1.0800 1)" style="font-family:'Liberation Sans',sans-serif;font-size:24.8px;font-weight:normal;stroke:#000;stroke-width:0.4px">10</text>
<rect x="950.65" y="1215.15" width="6.87" height="4.45" fill="#fff"/>
<rect x="960.15" y="1215.15" width="5.48" height="4.45" fill="#fff"/>
<line x1="1050.76" y1="1182" x2="1050.76" y2="1192.3" stroke="#000" stroke-width="1.8" stroke-linecap="butt"/>
<text transform="translate(1035.73 1218) scale(1.0800 1)" style="font-family:'Liberation Sans',sans-serif;font-size:24.8px;font-weight:normal;stroke:#000;stroke-width:0.4px">20</text>
<line x1="1135.24" y1="1182" x2="1135.24" y2="1192.3" stroke="#000" stroke-width="1.8" stroke-linecap="butt"/>
<text transform="translate(1120.37 1218) scale(1.0800 1)" style="font-family:'Liberation Sans',sans-serif;font-size:24.8px;font-weight:normal;stroke:#000;stroke-width:0.4px">30</text>
<line x1="1219.72" y1="1182" x2="1219.72" y2="1192.3" stroke="#000" stroke-width="1.8" stroke-linecap="butt"/>
<text transform="translate(1205.06 1218) scale(1.0800 1)" style="font-family:'Liberation Sans',sans-serif;font-size:24.8px;font-weight:normal;stroke:#000;stroke-width:0.4px">40</text>
<line x1="1304.2" y1="1182" x2="1304.2" y2="1192.3" stroke="#000" stroke-width="1.8" stroke-linecap="butt"/>
<text transform="translate(1289.3 1218) scale(1.0800 1)" style="font-family:'Liberation Sans',sans-serif;font-size:24.8px;font-weight:normal;stroke:#000;stroke-width:0.4px">50</text>
<line x1="1388.68" y1="1182" x2="1388.68" y2="1192.3" stroke="#000" stroke-width="1.8" stroke-linecap="butt"/>
<text transform="translate(1373.65 1218) scale(1.0800 1)" style="font-family:'Liberation Sans',sans-serif;font-size:24.8px;font-weight:normal;stroke:#000;stroke-width:0.4px">60</text>
<line x1="1473.16" y1="1182" x2="1473.16" y2="1192.3" stroke="#000" stroke-width="1.8" stroke-linecap="butt"/>
<text transform="translate(1458.09 1218) scale(1.0800 1)" style="font-family:'Liberation Sans',sans-serif;font-size:24.8px;font-weight:normal;stroke:#000;stroke-width:0.4px">70</text>
<line x1="881.8" y1="668.8" x2="881.8" y2="684.8" stroke="#000" stroke-width="1.5" stroke-linecap="butt"/>
<line x1="924.04" y1="668.8" x2="924.04" y2="684.8" stroke="#000" stroke-width="1.5" stroke-linecap="butt"/>
<line x1="932.49" y1="668.8" x2="932.49" y2="684.8" stroke="#000" stroke-width="1.5" stroke-linecap="butt"/>
<line x1="940.94" y1="668.8" x2="940.94" y2="684.8" stroke="#000" stroke-width="1.5" stroke-linecap="butt"/>
<line x1="949.38" y1="668.8" x2="949.38" y2="684.8" stroke="#000" stroke-width="1.5" stroke-linecap="butt"/>
<line x1="957.83" y1="668.8" x2="957.83" y2="684.8" stroke="#000" stroke-width="1.5" stroke-linecap="butt"/>
<line x1="966.28" y1="668.8" x2="966.28" y2="684.8" stroke="#000" stroke-width="1.5" stroke-linecap="butt"/>
<line x1="974.73" y1="668.8" x2="974.73" y2="684.8" stroke="#000" stroke-width="1.5" stroke-linecap="butt"/>
<line x1="991.62" y1="668.8" x2="991.62" y2="684.8" stroke="#000" stroke-width="1.5" stroke-linecap="butt"/>
<line x1="1000.07" y1="668.8" x2="1000.07" y2="684.8" stroke="#000" stroke-width="1.5" stroke-linecap="butt"/>
<line x1="1008.52" y1="668.8" x2="1008.52" y2="684.8" stroke="#000" stroke-width="1.5" stroke-linecap="butt"/>
<line x1="1016.97" y1="668.8" x2="1016.97" y2="684.8" stroke="#000" stroke-width="1.5" stroke-linecap="butt"/>
<line x1="1025.42" y1="668.8" x2="1025.42" y2="684.8" stroke="#000" stroke-width="1.5" stroke-linecap="butt"/>
<line x1="1033.86" y1="668.8" x2="1033.86" y2="684.8" stroke="#000" stroke-width="1.5" stroke-linecap="butt"/>
<line x1="1050.76" y1="668.8" x2="1050.76" y2="684.8" stroke="#000" stroke-width="1.5" stroke-linecap="butt"/>
<line x1="1059.21" y1="668.8" x2="1059.21" y2="684.8" stroke="#000" stroke-width="1.5" stroke-linecap="butt"/>
<line x1="1093" y1="668.8" x2="1093" y2="684.8" stroke="#000" stroke-width="1.5" stroke-linecap="butt"/>
<line x1="1109.9" y1="668.8" x2="1109.9" y2="684.8" stroke="#000" stroke-width="1.5" stroke-linecap="butt"/>
<line x1="1126.79" y1="668.8" x2="1126.79" y2="684.8" stroke="#000" stroke-width="1.5" stroke-linecap="butt"/>
<line x1="1135.24" y1="668.8" x2="1135.24" y2="684.8" stroke="#000" stroke-width="1.5" stroke-linecap="butt"/>
<line x1="1152.14" y1="668.8" x2="1152.14" y2="684.8" stroke="#000" stroke-width="1.5" stroke-linecap="butt"/>
<line x1="1169.03" y1="668.8" x2="1169.03" y2="684.8" stroke="#000" stroke-width="1.5" stroke-linecap="butt"/>
<line x1="1177.48" y1="668.8" x2="1177.48" y2="684.8" stroke="#000" stroke-width="1.5" stroke-linecap="butt"/>
<line x1="1185.93" y1="668.8" x2="1185.93" y2="684.8" stroke="#000" stroke-width="1.5" stroke-linecap="butt"/>
<line x1="1194.38" y1="668.8" x2="1194.38" y2="684.8" stroke="#000" stroke-width="1.5" stroke-linecap="butt"/>
<line x1="1202.82" y1="668.8" x2="1202.82" y2="684.8" stroke="#000" stroke-width="1.5" stroke-linecap="butt"/>
<line x1="1219.72" y1="668.8" x2="1219.72" y2="684.8" stroke="#000" stroke-width="1.5" stroke-linecap="butt"/>
<line x1="1304.2" y1="668.8" x2="1304.2" y2="684.8" stroke="#000" stroke-width="1.5" stroke-linecap="butt"/>
<line x1="1346.44" y1="668.8" x2="1346.44" y2="684.8" stroke="#000" stroke-width="1.5" stroke-linecap="butt"/>
<line x1="1388.68" y1="668.8" x2="1388.68" y2="684.8" stroke="#000" stroke-width="1.5" stroke-linecap="butt"/>
<line x1="1438.1" y1="668.8" x2="1438.1" y2="684.8" stroke="#000" stroke-width="1.5" stroke-linecap="butt"/>
<line x1="1473.16" y1="668.8" x2="1473.16" y2="684.8" stroke="#000" stroke-width="1.5" stroke-linecap="butt"/>
<line x1="924.04" y1="1166" x2="924.04" y2="1182" stroke="#000" stroke-width="1.5" stroke-linecap="butt"/>
<line x1="932.49" y1="1166" x2="932.49" y2="1182" stroke="#000" stroke-width="1.5" stroke-linecap="butt"/>
<line x1="940.94" y1="1166" x2="940.94" y2="1182" stroke="#000" stroke-width="1.5" stroke-linecap="butt"/>
<line x1="949.38" y1="1166" x2="949.38" y2="1182" stroke="#000" stroke-width="1.5" stroke-linecap="butt"/>
<line x1="957.83" y1="1166" x2="957.83" y2="1182" stroke="#000" stroke-width="1.5" stroke-linecap="butt"/>
<line x1="966.28" y1="1166" x2="966.28" y2="1182" stroke="#000" stroke-width="1.5" stroke-linecap="butt"/>
<line x1="974.73" y1="1166" x2="974.73" y2="1182" stroke="#000" stroke-width="1.5" stroke-linecap="butt"/>
<line x1="983.18" y1="1166" x2="983.18" y2="1182" stroke="#000" stroke-width="1.5" stroke-linecap="butt"/>
<line x1="991.62" y1="1166" x2="991.62" y2="1182" stroke="#000" stroke-width="1.5" stroke-linecap="butt"/>
<line x1="1000.07" y1="1166" x2="1000.07" y2="1182" stroke="#000" stroke-width="1.5" stroke-linecap="butt"/>
<line x1="1008.52" y1="1166" x2="1008.52" y2="1182" stroke="#000" stroke-width="1.5" stroke-linecap="butt"/>
<line x1="1016.97" y1="1166" x2="1016.97" y2="1182" stroke="#000" stroke-width="1.5" stroke-linecap="butt"/>
<line x1="1025.42" y1="1166" x2="1025.42" y2="1182" stroke="#000" stroke-width="1.5" stroke-linecap="butt"/>
<line x1="1033.86" y1="1166" x2="1033.86" y2="1182" stroke="#000" stroke-width="1.5" stroke-linecap="butt"/>
<line x1="1042.31" y1="1166" x2="1042.31" y2="1182" stroke="#000" stroke-width="1.5" stroke-linecap="butt"/>
<line x1="1050.76" y1="1166" x2="1050.76" y2="1182" stroke="#000" stroke-width="1.5" stroke-linecap="butt"/>
<line x1="1067.66" y1="1166" x2="1067.66" y2="1182" stroke="#000" stroke-width="1.5" stroke-linecap="butt"/>
<line x1="1135.24" y1="1166" x2="1135.24" y2="1182" stroke="#000" stroke-width="1.5" stroke-linecap="butt"/>
<line x1="1152.14" y1="1166" x2="1152.14" y2="1182" stroke="#000" stroke-width="1.5" stroke-linecap="butt"/>
<line x1="1177.48" y1="1166" x2="1177.48" y2="1182" stroke="#000" stroke-width="1.5" stroke-linecap="butt"/>
<line x1="1261.96" y1="1166" x2="1261.96" y2="1182" stroke="#000" stroke-width="1.5" stroke-linecap="butt"/>
<line x1="1304.2" y1="1166" x2="1304.2" y2="1182" stroke="#000" stroke-width="1.5" stroke-linecap="butt"/>
<polyline points="881.8,1001.54 883.77,1000.1 885.74,998.65 887.71,997.2 889.68,995.75 891.66,994.28 893.63,992.82 895.6,991.34 897.57,989.86 899.54,988.38 901.51,986.89 903.48,985.39 905.45,983.89 907.43,982.39 909.4,980.88 911.37,979.37 913.34,977.85 915.31,976.32 917.28,974.79 919.25,973.26 921.22,971.73 923.2,970.19 925.17,968.64 927.14,967.09 929.11,965.54 931.08,963.99 933.05,962.43 935.02,960.86 936.99,959.3 938.96,957.73 940.94,956.16 942.91,954.59 944.88,953.01 946.85,951.43 948.82,949.85 950.79,948.27 952.76,946.68 954.73,945.09 956.71,943.5 958.68,941.91 960.65,940.32 962.62,938.73 964.59,937.13 966.56,935.54 968.53,933.94 970.5,932.34 972.48,930.75 974.45,929.15 976.42,927.55 978.39,925.95 980.36,924.35 982.33,922.75 984.3,921.15 986.27,919.56 988.24,917.96 990.22,916.36 992.19,914.77 994.16,913.17 996.13,911.58 998.1,909.98 1000.07,908.39 1002.04,906.8 1004.01,905.21 1005.99,903.63 1007.96,902.04 1009.93,900.46 1011.9,898.88 1013.87,897.31 1015.84,895.73 1017.81,894.16 1019.78,892.59 1021.76,891.02 1023.73,889.46 1025.7,887.9 1027.67,886.34 1029.64,884.79 1031.61,883.24 1033.58,881.69 1035.55,880.15 1037.52,878.61 1039.5,877.08 1041.47,875.55 1043.44,874.02 1045.41,872.5 1047.38,870.98 1049.35,869.47 1051.32,867.96 1053.29,866.46 1055.27,864.97 1057.24,863.47 1059.21,861.99 1061.18,860.5 1063.15,859.03 1065.12,857.56 1067.09,856.09 1069.06,854.63 1071.04,853.18 1073.01,851.73 1074.98,850.29 1076.95,848.86 1078.92,847.43 1080.89,846.01 1082.86,844.59 1084.83,843.18 1086.8,841.78 1088.78,840.38 1090.75,838.99 1092.72,837.61 1094.69,836.23 1096.66,834.87 1098.63,833.5 1100.6,832.15 1102.57,830.8 1104.55,829.46 1106.52,828.13 1108.49,826.8 1110.46,825.48 1112.43,824.17 1114.4,822.87 1116.37,821.57 1118.34,820.29 1120.32,819.01 1122.29,817.73 1124.26,816.47 1126.23,815.21 1128.2,813.96 1130.17,812.72 1132.14,811.49 1134.11,810.26 1136.08,809.04 1138.06,807.83 1140.03,806.63 1142,805.44 1143.97,804.25 1145.94,803.08 1147.91,801.91 1149.88,800.75 1151.85,799.59 1153.83,798.45 1155.8,797.31 1157.77,796.19 1159.74,795.07 1161.71,793.96 1163.68,792.85 1165.65,791.76 1167.62,790.67 1169.6,789.59 1171.57,788.52 1173.54,787.46 1175.51,786.41 1177.48,785.36 1179.45,784.33 1181.42,783.3 1183.39,782.28 1185.36,781.26 1187.34,780.26 1189.31,779.27 1191.28,778.28 1193.25,777.3 1195.22,776.33 1197.19,775.37 1199.16,774.41 1201.13,773.46 1203.11,772.53 1205.08,771.6 1207.05,770.67 1209.02,769.76 1210.99,768.85 1212.96,767.96 1214.93,767.07 1216.9,766.18 1218.88,765.31 1220.85,764.44 1222.82,763.59 1224.79,762.74 1226.76,761.89 1228.73,761.06 1230.7,760.23 1232.67,759.41 1234.64,758.6 1236.62,757.8 1238.59,757 1240.56,756.21 1242.53,755.43 1244.5,754.66 1246.47,753.89 1248.44,753.13 1250.41,752.38 1252.39,751.64 1254.36,750.9 1256.33,750.17 1258.3,749.45 1260.27,748.73 1262.24,748.03 1264.21,747.33 1266.18,746.63 1268.16,745.94 1270.13,745.27 1272.1,744.59 1274.07,743.93 1276.04,743.27 1278.01,742.61 1279.98,741.97 1281.95,741.33 1283.92,740.7 1285.9,740.07 1287.87,739.45 1289.84,738.84 1291.81,738.23 1293.78,737.63 1295.75,737.04 1297.72,736.45 1299.69,735.87 1301.67,735.3 1303.64,734.73 1305.61,734.17 1307.58,733.61 1309.55,733.06 1311.52,732.52 1313.49,731.98 1315.46,731.45 1317.44,730.92 1319.41,730.4 1321.38,729.88 1323.35,729.37 1325.32,728.87 1327.29,728.37 1329.26,727.88 1331.23,727.39 1333.2,726.91 1335.18,726.44 1337.15,725.96 1339.12,725.5 1341.09,725.04 1343.06,724.58 1345.03,724.13 1347,723.69 1348.97,723.25 1350.95,722.81 1352.92,722.38 1354.89,721.96 1356.86,721.54 1358.83,721.12 1360.8,720.71 1362.77,720.31 1364.74,719.91 1366.72,719.51 1368.69,719.12 1370.66,718.73 1372.63,718.35 1374.6,717.97 1376.57,717.6 1378.54,717.23 1380.51,716.86 1382.48,716.5 1384.46,716.15 1386.43,715.79 1388.4,715.45 1390.37,715.1 1392.34,714.76 1394.31,714.43 1396.28,714.1 1398.25,713.77 1400.23,713.44 1402.2,713.12 1404.17,712.81 1406.14,712.49 1408.11,712.19 1410.08,711.88 1412.05,711.58 1414.02,711.28 1416,710.99 1417.97,710.7 1419.94,710.41 1421.91,710.13 1423.88,709.85 1425.85,709.57 1427.82,709.3 1429.79,709.03 1431.76,708.76 1433.74,708.5 1435.71,708.24 1437.68,707.98 1439.65,707.73 1441.62,707.48 1443.59,707.23 1445.56,706.98 1447.53,706.74 1449.51,706.5 1451.48,706.27 1453.45,706.04 1455.42,705.81 1457.39,705.58 1459.36,705.35 1461.33,705.13 1463.3,704.91 1465.28,704.7 1467.25,704.49 1469.22,704.28 1471.19,704.07 1473.16,703.86" fill="none" stroke="#000" stroke-width="3.5" stroke-linecap="round" stroke-linejoin="round"/>
<rect x="858" y="668.8" width="638" height="513.2" fill="none" stroke="#000" stroke-width="1.8"/>
<text transform="translate(882.16 726.52) scale(0.9815 1)" style="font-family:'Liberation Sans',sans-serif;font-size:45.68px;font-weight:bold">(d)</text>
<text transform="translate(984.29 1258.2) scale(1.1514 1)" style="font-family:'Liberation Sans',sans-serif;font-size:24.3px;font-weight:normal;stroke:#000;stroke-width:0.4px">Height of herbaceous layer</text>
<text transform="translate(1321.32 1257.96) scale(1.0848 1)" style="font-family:'Liberation Sans',sans-serif;font-size:27.67px;font-weight:normal;stroke:#000;stroke-width:0.4px">(cm)</text>
<text transform="translate(780.2 1132.27) rotate(-90) scale(0.9785 1)" style="font-family:'Liberation Sans',sans-serif;font-size:31.8px;font-weight:normal;stroke:#000;stroke-width:0.4px">Probability of nest occurrence</text>
<line x1="99.2" y1="1820.5" x2="109.9" y2="1820.5" stroke="#000" stroke-width="1.7" stroke-linecap="butt"/>
<text transform="translate(54.61 1831.2) scale(0.9350 1)" style="font-family:'Liberation Sans',sans-serif;font-size:26.4px;font-weight:normal;stroke:#000;stroke-width:0.4px">0.0</text>
<line x1="99.2" y1="1722.28" x2="109.9" y2="1722.28" stroke="#000" stroke-width="1.7" stroke-linecap="butt"/>
<text transform="translate(54.92 1732.98) scale(0.9350 1)" style="font-family:'Liberation Sans',sans-serif;font-size:26.4px;font-weight:normal;stroke:#000;stroke-width:0.4px">0.2</text>
<line x1="99.2" y1="1624.06" x2="109.9" y2="1624.06" stroke="#000" stroke-width="1.7" stroke-linecap="butt"/>
<text transform="translate(54.37 1634.76) scale(0.9350 1)" style="font-family:'Liberation Sans',sans-serif;font-size:26.4px;font-weight:normal;stroke:#000;stroke-width:0.4px">0.4</text>
<line x1="99.2" y1="1525.84" x2="109.9" y2="1525.84" stroke="#000" stroke-width="1.7" stroke-linecap="butt"/>
<text transform="translate(54.74 1536.54) scale(0.9350 1)" style="font-family:'Liberation Sans',sans-serif;font-size:26.4px;font-weight:normal;stroke:#000;stroke-width:0.4px">0.6</text>
<line x1="99.2" y1="1427.62" x2="109.9" y2="1427.62" stroke="#000" stroke-width="1.7" stroke-linecap="butt"/>
<text transform="translate(54.74 1438.32) scale(0.9350 1)" style="font-family:'Liberation Sans',sans-serif;font-size:26.4px;font-weight:normal;stroke:#000;stroke-width:0.4px">0.8</text>
<line x1="99.2" y1="1329.4" x2="109.9" y2="1329.4" stroke="#000" stroke-width="1.7" stroke-linecap="butt"/>
<text transform="translate(54.61 1340.1) scale(0.9350 1)" style="font-family:'Liberation Sans',sans-serif;font-size:26.4px;font-weight:normal;stroke:#000;stroke-width:0.4px">1.0</text>
<rect x="54.37" y="1337.13" width="6.33" height="4.57" fill="#fff"/>
<rect x="63.12" y="1337.13" width="5.05" height="4.57" fill="#fff"/>
<line x1="174" y1="1841" x2="174" y2="1851.3" stroke="#000" stroke-width="1.7" stroke-linecap="butt"/>
<text transform="translate(159.57 1878.6)" style="font-family:'Liberation Sans',sans-serif;font-size:26px;font-weight:normal;stroke:#000;stroke-width:0.4px">30</text>
<line x1="258.85" y1="1841" x2="258.85" y2="1851.3" stroke="#000" stroke-width="1.7" stroke-linecap="butt"/>
<text transform="translate(244.62 1878.6)" style="font-family:'Liberation Sans',sans-serif;font-size:26px;font-weight:normal;stroke:#000;stroke-width:0.4px">40</text>
<line x1="343.7" y1="1841" x2="343.7" y2="1851.3" stroke="#000" stroke-width="1.7" stroke-linecap="butt"/>
<text transform="translate(329.24 1878.6)" style="font-family:'Liberation Sans',sans-serif;font-size:26px;font-weight:normal;stroke:#000;stroke-width:0.4px">50</text>
<line x1="428.55" y1="1841" x2="428.55" y2="1851.3" stroke="#000" stroke-width="1.7" stroke-linecap="butt"/>
<text transform="translate(413.96 1878.6)" style="font-family:'Liberation Sans',sans-serif;font-size:26px;font-weight:normal;stroke:#000;stroke-width:0.4px">60</text>
<line x1="513.4" y1="1841" x2="513.4" y2="1851.3" stroke="#000" stroke-width="1.7" stroke-linecap="butt"/>
<text transform="translate(498.77 1878.6)" style="font-family:'Liberation Sans',sans-serif;font-size:26px;font-weight:normal;stroke:#000;stroke-width:0.4px">70</text>
<line x1="598.25" y1="1841" x2="598.25" y2="1851.3" stroke="#000" stroke-width="1.7" stroke-linecap="butt"/>
<text transform="translate(583.75 1878.6)" style="font-family:'Liberation Sans',sans-serif;font-size:26px;font-weight:normal;stroke:#000;stroke-width:0.4px">80</text>
<line x1="683.1" y1="1841" x2="683.1" y2="1851.3" stroke="#000" stroke-width="1.7" stroke-linecap="butt"/>
<text transform="translate(668.54 1878.6)" style="font-family:'Liberation Sans',sans-serif;font-size:26px;font-weight:normal;stroke:#000;stroke-width:0.4px">90</text>
<line x1="487.94" y1="1308.9" x2="487.94" y2="1325.4" stroke="#000" stroke-width="1.5" stroke-linecap="butt"/>
<line x1="504.91" y1="1308.9" x2="504.91" y2="1325.4" stroke="#000" stroke-width="1.5" stroke-linecap="butt"/>
<line x1="513.4" y1="1308.9" x2="513.4" y2="1325.4" stroke="#000" stroke-width="1.5" stroke-linecap="butt"/>
<line x1="521.88" y1="1308.9" x2="521.88" y2="1325.4" stroke="#000" stroke-width="1.5" stroke-linecap="butt"/>
<line x1="530.37" y1="1308.9" x2="530.37" y2="1325.4" stroke="#000" stroke-width="1.5" stroke-linecap="butt"/>
<line x1="547.34" y1="1308.9" x2="547.34" y2="1325.4" stroke="#000" stroke-width="1.5" stroke-linecap="butt"/>
<line x1="555.83" y1="1308.9" x2="555.83" y2="1325.4" stroke="#000" stroke-width="1.5" stroke-linecap="butt"/>
<line x1="572.79" y1="1308.9" x2="572.79" y2="1325.4" stroke="#000" stroke-width="1.5" stroke-linecap="butt"/>
<line x1="589.76" y1="1308.9" x2="589.76" y2="1325.4" stroke="#000" stroke-width="1.5" stroke-linecap="butt"/>
<line x1="615.22" y1="1308.9" x2="615.22" y2="1325.4" stroke="#000" stroke-width="1.5" stroke-linecap="butt"/>
<line x1="131.57" y1="1824.5" x2="131.57" y2="1841" stroke="#000" stroke-width="1.5" stroke-linecap="butt"/>
<line x1="216.43" y1="1824.5" x2="216.43" y2="1841" stroke="#000" stroke-width="1.5" stroke-linecap="butt"/>
<line x1="428.55" y1="1824.5" x2="428.55" y2="1841" stroke="#000" stroke-width="1.5" stroke-linecap="butt"/>
<line x1="487.94" y1="1824.5" x2="487.94" y2="1841" stroke="#000" stroke-width="1.5" stroke-linecap="butt"/>
<line x1="513.4" y1="1824.5" x2="513.4" y2="1841" stroke="#000" stroke-width="1.5" stroke-linecap="butt"/>
<line x1="530.37" y1="1824.5" x2="530.37" y2="1841" stroke="#000" stroke-width="1.5" stroke-linecap="butt"/>
<line x1="555.83" y1="1824.5" x2="555.83" y2="1841" stroke="#000" stroke-width="1.5" stroke-linecap="butt"/>
<line x1="572.79" y1="1824.5" x2="572.79" y2="1841" stroke="#000" stroke-width="1.5" stroke-linecap="butt"/>
<line x1="581.28" y1="1824.5" x2="581.28" y2="1841" stroke="#000" stroke-width="1.5" stroke-linecap="butt"/>
<line x1="589.76" y1="1824.5" x2="589.76" y2="1841" stroke="#000" stroke-width="1.5" stroke-linecap="butt"/>
<line x1="598.25" y1="1824.5" x2="598.25" y2="1841" stroke="#000" stroke-width="1.5" stroke-linecap="butt"/>
<line x1="683.1" y1="1824.5" x2="683.1" y2="1841" stroke="#000" stroke-width="1.5" stroke-linecap="butt"/>
<polyline points="131.57,1820.5 133.41,1820.5 135.25,1820.5 137.09,1820.5 138.93,1820.5 140.77,1820.5 142.61,1820.5 144.44,1820.5 146.28,1820.5 148.12,1820.5 149.96,1820.5 151.8,1820.5 153.64,1820.5 155.47,1820.5 157.31,1820.5 159.15,1820.5 160.99,1820.5 162.83,1820.5 164.67,1820.5 166.5,1820.5 168.34,1820.5 170.18,1820.5 172.02,1820.5 173.86,1820.5 175.7,1820.5 177.54,1820.5 179.37,1820.5 181.21,1820.5 183.05,1820.5 184.89,1820.5 186.73,1820.5 188.57,1820.5 190.4,1820.5 192.24,1820.5 194.08,1820.5 195.92,1820.5 197.76,1820.5 199.6,1820.5 201.43,1820.5 203.27,1820.5 205.11,1820.5 206.95,1820.5 208.79,1820.5 210.63,1820.5 212.47,1820.5 214.3,1820.5 216.14,1820.5 217.98,1820.5 219.82,1820.5 221.66,1820.5 223.5,1820.5 225.33,1820.5 227.17,1820.5 229.01,1820.5 230.85,1820.5 232.69,1820.5 234.53,1820.5 236.36,1820.5 238.2,1820.5 240.04,1820.5 241.88,1820.5 243.72,1820.5 245.56,1820.5 247.4,1820.5 249.23,1820.5 251.07,1820.5 252.91,1820.5 254.75,1820.5 256.59,1820.5 258.43,1820.5 260.26,1820.5 262.1,1820.5 263.94,1820.5 265.78,1820.5 267.62,1820.5 269.46,1820.5 271.29,1820.5 273.13,1820.5 274.97,1820.5 276.81,1820.5 278.65,1820.5 280.49,1820.5 282.33,1820.5 284.16,1820.5 286,1820.5 287.84,1820.5 289.68,1820.5 291.52,1820.5 293.36,1820.5 295.19,1820.5 297.03,1820.5 298.87,1820.5 300.71,1820.5 302.55,1820.5 304.39,1820.5 306.22,1820.5 308.06,1820.5 309.9,1820.5 311.74,1820.5 313.58,1820.5 315.42,1820.5 317.26,1820.49 319.09,1820.49 320.93,1820.49 322.77,1820.49 324.61,1820.49 326.45,1820.49 328.29,1820.48 330.12,1820.48 331.96,1820.48 333.8,1820.47 335.64,1820.47 337.48,1820.46 339.32,1820.45 341.15,1820.45 342.99,1820.44 344.83,1820.43 346.67,1820.41 348.51,1820.4 350.35,1820.38 352.19,1820.36 354.02,1820.34 355.86,1820.31 357.7,1820.28 359.54,1820.25 361.38,1820.21 363.22,1820.16 365.05,1820.11 366.89,1820.05 368.73,1819.98 370.57,1819.91 372.41,1819.82 374.25,1819.72 376.08,1819.6 377.92,1819.47 379.76,1819.32 381.6,1819.16 383.44,1818.97 385.28,1818.76 387.11,1818.52 388.95,1818.26 390.79,1817.96 392.63,1817.63 394.47,1817.25 396.31,1816.84 398.15,1816.37 399.98,1815.86 401.82,1815.29 403.66,1814.66 405.5,1813.96 407.34,1813.19 409.18,1812.34 411.01,1811.41 412.85,1810.39 414.69,1809.27 416.53,1808.04 418.37,1806.71 420.21,1805.26 422.04,1803.68 423.88,1801.97 425.72,1800.12 427.56,1798.12 429.4,1795.98 431.24,1793.67 433.08,1791.2 434.91,1788.55 436.75,1785.74 438.59,1782.74 440.43,1779.56 442.27,1776.19 444.11,1772.64 445.94,1768.89 447.78,1764.97 449.62,1760.85 451.46,1756.55 453.3,1752.08 455.14,1747.43 456.97,1742.61 458.81,1737.64 460.65,1732.51 462.49,1727.25 464.33,1721.86 466.17,1716.35 468.01,1710.74 469.84,1705.04 471.68,1699.27 473.52,1693.43 475.36,1687.55 477.2,1681.64 479.04,1675.72 480.87,1669.8 482.71,1663.89 484.55,1658.01 486.39,1652.18 488.23,1646.41 490.07,1640.7 491.9,1635.08 493.74,1629.55 495.58,1624.13 497.42,1618.82 499.26,1613.64 501.1,1608.59 502.94,1603.68 504.77,1598.91 506.61,1594.29 508.45,1589.83 510.29,1585.53 512.13,1581.4 513.97,1577.43 515.8,1573.63 517.64,1570 519.48,1566.55 521.32,1563.27 523.16,1560.16 525,1557.22 526.83,1554.47 528.67,1551.88 530.51,1549.47 532.35,1547.23 534.19,1545.17 536.03,1543.28 537.87,1541.56 539.7,1540 541.54,1538.62 543.38,1537.41 545.22,1536.37 547.06,1535.49 548.9,1534.78 550.73,1534.24 552.57,1533.86 554.41,1533.65 556.25,1533.61 558.09,1533.73 559.93,1534.02 561.76,1534.47 563.6,1535.09 565.44,1535.88 567.28,1536.83 569.12,1537.95 570.96,1539.24 572.79,1540.7 574.63,1542.33 576.47,1544.13 578.31,1546.1 580.15,1548.24 581.99,1550.56 583.83,1553.05 585.66,1555.72 587.5,1558.56 589.34,1561.57 591.18,1564.76 593.02,1568.12 594.86,1571.66 596.69,1575.36 598.53,1579.24 600.37,1583.29 602.21,1587.5 604.05,1591.87 605.89,1596.4 607.72,1601.09 609.56,1605.93 611.4,1610.9 613.24,1616.02 615.08,1621.26 616.92,1626.62 618.76,1632.09 620.59,1637.66 622.43,1643.32 624.27,1649.06 626.11,1654.87 627.95,1660.72 629.79,1666.61 631.62,1672.53 633.46,1678.46 635.3,1684.37 637.14,1690.27 638.98,1696.13 640.82,1701.94 642.65,1707.68 644.49,1713.34 646.33,1718.91 648.17,1724.36 650.01,1729.7 651.85,1734.9 653.69,1739.95 655.52,1744.86 657.36,1749.59 659.2,1754.16 661.04,1758.56 662.88,1762.77 664.72,1766.8 666.55,1770.64 668.39,1774.3 670.23,1777.77 672.07,1781.05 673.91,1784.14 675.75,1787.06 677.58,1789.79 679.42,1792.36 681.26,1794.75 683.1,1796.99" fill="none" stroke="#000" stroke-width="3.6" stroke-linecap="round" stroke-linejoin="round"/>
<rect x="109.9" y="1308.9" width="595.1" height="532.1" fill="none" stroke="#000" stroke-width="1.7"/>
<text transform="translate(124.17 1358.6) scale(0.9747 1)" style="font-family:'Liberation Sans',sans-serif;font-size:45.79px;font-weight:bold">(e)</text>
<text transform="translate(322.92 1920) scale(1.0223 1)" style="font-family:'Liberation Sans',sans-serif;font-size:25.2px;font-weight:normal;stroke:#000;stroke-width:0.4px">Tree cover (%)</text>
<line x1="847.3" y1="1820.5" x2="858" y2="1820.5" stroke="#000" stroke-width="1.8" stroke-linecap="butt"/>
<text transform="translate(798.77 1831.3) scale(0.9950 1)" style="font-family:'Liberation Sans',sans-serif;font-size:26.4px;font-weight:normal;stroke:#000;stroke-width:0.4px">0.0</text>
<line x1="847.3" y1="1722.26" x2="858" y2="1722.26" stroke="#000" stroke-width="1.8" stroke-linecap="butt"/>
<text transform="translate(799.1 1733.06) scale(0.9950 1)" style="font-family:'Liberation Sans',sans-serif;font-size:26.4px;font-weight:normal;stroke:#000;stroke-width:0.4px">0.2</text>
<line x1="847.3" y1="1624.02" x2="858" y2="1624.02" stroke="#000" stroke-width="1.8" stroke-linecap="butt"/>
<text transform="translate(798.51 1634.82) scale(0.9950 1)" style="font-family:'Liberation Sans',sans-serif;font-size:26.4px;font-weight:normal;stroke:#000;stroke-width:0.4px">0.4</text>
<line x1="847.3" y1="1525.78" x2="858" y2="1525.78" stroke="#000" stroke-width="1.8" stroke-linecap="butt"/>
<text transform="translate(798.9 1536.58) scale(0.9950 1)" style="font-family:'Liberation Sans',sans-serif;font-size:26.4px;font-weight:normal;stroke:#000;stroke-width:0.4px">0.6</text>
<line x1="847.3" y1="1427.54" x2="858" y2="1427.54" stroke="#000" stroke-width="1.8" stroke-linecap="butt"/>
<text transform="translate(798.9 1438.34) scale(0.9950 1)" style="font-family:'Liberation Sans',sans-serif;font-size:26.4px;font-weight:normal;stroke:#000;stroke-width:0.4px">0.8</text>
<line x1="847.3" y1="1329.3" x2="858" y2="1329.3" stroke="#000" stroke-width="1.8" stroke-linecap="butt"/>
<text transform="translate(798.77 1340.1) scale(0.9950 1)" style="font-family:'Liberation Sans',sans-serif;font-size:26.4px;font-weight:normal;stroke:#000;stroke-width:0.4px">1.0</text>
<rect x="798.52" y="1337.13" width="6.73" height="4.57" fill="#fff"/>
<rect x="807.83" y="1337.13" width="5.37" height="4.57" fill="#fff"/>
<line x1="869.5" y1="1841" x2="869.5" y2="1851.3" stroke="#000" stroke-width="1.8" stroke-linecap="butt"/>
<text transform="translate(861.94 1878.7) scale(1.0600 1)" style="font-family:'Liberation Sans',sans-serif;font-size:25.6px;font-weight:normal;stroke:#000;stroke-width:0.4px">0</text>
<line x1="989.68" y1="1841" x2="989.68" y2="1851.3" stroke="#000" stroke-width="1.8" stroke-linecap="butt"/>
<text transform="translate(966.55 1878.7) scale(1.0600 1)" style="font-family:'Liberation Sans',sans-serif;font-size:25.6px;font-weight:normal;stroke:#000;stroke-width:0.4px">100</text>
<rect x="966.28" y="1875.79" width="6.96" height="4.51" fill="#fff"/>
<rect x="975.9" y="1875.79" width="5.55" height="4.51" fill="#fff"/>
<line x1="1109.86" y1="1841" x2="1109.86" y2="1851.3" stroke="#000" stroke-width="1.8" stroke-linecap="butt"/>
<text transform="translate(1087.07 1878.7) scale(1.0600 1)" style="font-family:'Liberation Sans',sans-serif;font-size:25.6px;font-weight:normal;stroke:#000;stroke-width:0.4px">200</text>
<line x1="1230.04" y1="1841" x2="1230.04" y2="1851.3" stroke="#000" stroke-width="1.8" stroke-linecap="butt"/>
<text transform="translate(1207.42 1878.7) scale(1.0600 1)" style="font-family:'Liberation Sans',sans-serif;font-size:25.6px;font-weight:normal;stroke:#000;stroke-width:0.4px">300</text>
<line x1="1350.22" y1="1841" x2="1350.22" y2="1851.3" stroke="#000" stroke-width="1.8" stroke-linecap="butt"/>
<text transform="translate(1327.8 1878.7) scale(1.0600 1)" style="font-family:'Liberation Sans',sans-serif;font-size:25.6px;font-weight:normal;stroke:#000;stroke-width:0.4px">400</text>
<line x1="1470.4" y1="1841" x2="1470.4" y2="1851.3" stroke="#000" stroke-width="1.8" stroke-linecap="butt"/>
<text transform="translate(1447.74 1878.7) scale(1.0600 1)" style="font-family:'Liberation Sans',sans-serif;font-size:25.6px;font-weight:normal;stroke:#000;stroke-width:0.4px">500</text>
<line x1="883.6" y1="1308.9" x2="883.6" y2="1324.9" stroke="#000" stroke-width="4.2" stroke-linecap="butt"/>
<line x1="888" y1="1308.9" x2="888" y2="1324.9" stroke="#333" stroke-width="1.5" stroke-linecap="butt"/>
<line x1="892.9" y1="1308.9" x2="892.9" y2="1324.9" stroke="#000" stroke-width="1.5" stroke-linecap="butt"/>
<line x1="896" y1="1308.9" x2="896" y2="1324.9" stroke="#444" stroke-width="1.5" stroke-linecap="butt"/>
<line x1="900.5" y1="1308.9" x2="900.5" y2="1324.9" stroke="#000" stroke-width="1.1" stroke-linecap="butt"/>
<line x1="902.3" y1="1308.9" x2="902.3" y2="1324.9" stroke="#555" stroke-width="2.4" stroke-linecap="butt"/>
<line x1="906.1" y1="1308.9" x2="906.1" y2="1324.9" stroke="#000" stroke-width="1.3" stroke-linecap="butt"/>
<line x1="908.6" y1="1308.9" x2="908.6" y2="1324.9" stroke="#000" stroke-width="1.3" stroke-linecap="butt"/>
<line x1="910.2" y1="1308.9" x2="910.2" y2="1324.9" stroke="#aaa" stroke-width="1.8" stroke-linecap="butt"/>
<line x1="911.75" y1="1308.9" x2="911.75" y2="1324.9" stroke="#000" stroke-width="1.5" stroke-linecap="butt"/>
<line x1="920" y1="1308.9" x2="920" y2="1324.9" stroke="#333" stroke-width="1.5" stroke-linecap="butt"/>
<line x1="923.75" y1="1308.9" x2="923.75" y2="1324.9" stroke="#000" stroke-width="3" stroke-linecap="butt"/>
<line x1="942" y1="1308.9" x2="942" y2="1324.9" stroke="#000" stroke-width="1.5" stroke-linecap="butt"/>
<line x1="945.6" y1="1308.9" x2="945.6" y2="1324.9" stroke="#000" stroke-width="1.5" stroke-linecap="butt"/>
<line x1="950.7" y1="1308.9" x2="950.7" y2="1324.9" stroke="#000" stroke-width="1.9" stroke-linecap="butt"/>
<line x1="954.7" y1="1308.9" x2="954.7" y2="1324.9" stroke="#000" stroke-width="2.5" stroke-linecap="butt"/>
<line x1="956.8" y1="1308.9" x2="956.8" y2="1324.9" stroke="#999" stroke-width="1.8" stroke-linecap="butt"/>
<line x1="958.4" y1="1308.9" x2="958.4" y2="1324.9" stroke="#000" stroke-width="1.3" stroke-linecap="butt"/>
<line x1="966.2" y1="1308.9" x2="966.2" y2="1324.9" stroke="#000" stroke-width="1.5" stroke-linecap="butt"/>
<line x1="973.1" y1="1308.9" x2="973.1" y2="1324.9" stroke="#000" stroke-width="5.2" stroke-linecap="butt"/>
<line x1="978" y1="1308.9" x2="978" y2="1324.9" stroke="#333" stroke-width="1.5" stroke-linecap="butt"/>
<line x1="982.5" y1="1308.9" x2="982.5" y2="1324.9" stroke="#000" stroke-width="2.5" stroke-linecap="butt"/>
<line x1="986" y1="1308.9" x2="986" y2="1324.9" stroke="#666" stroke-width="1.5" stroke-linecap="butt"/>
<line x1="988.9" y1="1308.9" x2="988.9" y2="1324.9" stroke="#000" stroke-width="1.5" stroke-linecap="butt"/>
<line x1="993.5" y1="1308.9" x2="993.5" y2="1324.9" stroke="#000" stroke-width="4" stroke-linecap="butt"/>
<line x1="998" y1="1308.9" x2="998" y2="1324.9" stroke="#000" stroke-width="1.5" stroke-linecap="butt"/>
<line x1="1001" y1="1308.9" x2="1001" y2="1324.9" stroke="#777" stroke-width="1.5" stroke-linecap="butt"/>
<line x1="1004.1" y1="1308.9" x2="1004.1" y2="1324.9" stroke="#000" stroke-width="1.5" stroke-linecap="butt"/>
<line x1="1010.75" y1="1308.9" x2="1010.75" y2="1324.9" stroke="#000" stroke-width="2" stroke-linecap="butt"/>
<line x1="1014.25" y1="1308.9" x2="1014.25" y2="1324.9" stroke="#000" stroke-width="1.5" stroke-linecap="butt"/>
<line x1="1015.9" y1="1308.9" x2="1015.9" y2="1324.9" stroke="#bbb" stroke-width="1.7" stroke-linecap="butt"/>
<line x1="1017.4" y1="1308.9" x2="1017.4" y2="1324.9" stroke="#000" stroke-width="1.2" stroke-linecap="butt"/>
<line x1="1022.5" y1="1308.9" x2="1022.5" y2="1324.9" stroke="#000" stroke-width="2.5" stroke-linecap="butt"/>
<line x1="1026.4" y1="1308.9" x2="1026.4" y2="1324.9" stroke="#000" stroke-width="1.5" stroke-linecap="butt"/>
<line x1="1030" y1="1308.9" x2="1030" y2="1324.9" stroke="#000" stroke-width="1.5" stroke-linecap="butt"/>
<line x1="1033.25" y1="1308.9" x2="1033.25" y2="1324.9" stroke="#000" stroke-width="1.5" stroke-linecap="butt"/>
<line x1="1037" y1="1308.9" x2="1037" y2="1324.9" stroke="#000" stroke-width="1.5" stroke-linecap="butt"/>
<line x1="1040.25" y1="1308.9" x2="1040.25" y2="1324.9" stroke="#000" stroke-width="1.5" stroke-linecap="butt"/>
<line x1="1043.9" y1="1308.9" x2="1043.9" y2="1324.9" stroke="#000" stroke-width="1.5" stroke-linecap="butt"/>
<line x1="1049.6" y1="1308.9" x2="1049.6" y2="1324.9" stroke="#000" stroke-width="1.5" stroke-linecap="butt"/>
<line x1="1064.4" y1="1308.9" x2="1064.4" y2="1324.9" stroke="#000" stroke-width="1.5" stroke-linecap="butt"/>
<line x1="1068" y1="1308.9" x2="1068" y2="1324.9" stroke="#000" stroke-width="1.5" stroke-linecap="butt"/>
<line x1="1072.1" y1="1308.9" x2="1072.1" y2="1324.9" stroke="#000" stroke-width="2.2" stroke-linecap="butt"/>
<line x1="1101.3" y1="1308.9" x2="1101.3" y2="1324.9" stroke="#000" stroke-width="1.5" stroke-linecap="butt"/>
<line x1="882.5" y1="1825" x2="882.5" y2="1841" stroke="#000" stroke-width="2" stroke-linecap="butt"/>
<line x1="886.9" y1="1825" x2="886.9" y2="1841" stroke="#000" stroke-width="3.2" stroke-linecap="butt"/>
<line x1="891.9" y1="1825" x2="891.9" y2="1841" stroke="#000" stroke-width="1.8" stroke-linecap="butt"/>
<line x1="895.4" y1="1825" x2="895.4" y2="1841" stroke="#000" stroke-width="1.8" stroke-linecap="butt"/>
<line x1="898.9" y1="1825" x2="898.9" y2="1841" stroke="#000" stroke-width="1.8" stroke-linecap="butt"/>
<line x1="901.9" y1="1825" x2="901.9" y2="1841" stroke="#000" stroke-width="1.8" stroke-linecap="butt"/>
<line x1="905" y1="1825" x2="905" y2="1841" stroke="#000" stroke-width="1.5" stroke-linecap="butt"/>
<line x1="911" y1="1825" x2="911" y2="1841" stroke="#000" stroke-width="1" stroke-linecap="butt"/>
<line x1="912.3" y1="1825" x2="912.3" y2="1841" stroke="#888" stroke-width="1.7" stroke-linecap="butt"/>
<line x1="913.5" y1="1825" x2="913.5" y2="1841" stroke="#000" stroke-width="1" stroke-linecap="butt"/>
<line x1="915.6" y1="1825" x2="915.6" y2="1841" stroke="#000" stroke-width="1.5" stroke-linecap="butt"/>
<line x1="919" y1="1825" x2="919" y2="1841" stroke="#000" stroke-width="1.5" stroke-linecap="butt"/>
<line x1="921.9" y1="1825" x2="921.9" y2="1841" stroke="#000" stroke-width="1.8" stroke-linecap="butt"/>
<line x1="924.75" y1="1825" x2="924.75" y2="1841" stroke="#000" stroke-width="1" stroke-linecap="butt"/>
<line x1="926.4" y1="1825" x2="926.4" y2="1841" stroke="#888" stroke-width="2.4" stroke-linecap="butt"/>
<line x1="927.9" y1="1825" x2="927.9" y2="1841" stroke="#000" stroke-width="0.9" stroke-linecap="butt"/>
<line x1="929.5" y1="1825" x2="929.5" y2="1841" stroke="#000" stroke-width="1.1" stroke-linecap="butt"/>
<line x1="933.5" y1="1825" x2="933.5" y2="1841" stroke="#000" stroke-width="2" stroke-linecap="butt"/>
<line x1="938.75" y1="1825" x2="938.75" y2="1841" stroke="#000" stroke-width="1.2" stroke-linecap="butt"/>
<line x1="943.5" y1="1825" x2="943.5" y2="1841" stroke="#000" stroke-width="3.5" stroke-linecap="butt"/>
<line x1="949.5" y1="1825" x2="949.5" y2="1841" stroke="#000" stroke-width="2" stroke-linecap="butt"/>
<line x1="953.75" y1="1825" x2="953.75" y2="1841" stroke="#000" stroke-width="3" stroke-linecap="butt"/>
<line x1="960" y1="1825" x2="960" y2="1841" stroke="#000" stroke-width="2" stroke-linecap="butt"/>
<line x1="965.6" y1="1825" x2="965.6" y2="1841" stroke="#000" stroke-width="4.2" stroke-linecap="butt"/>
<line x1="969.9" y1="1825" x2="969.9" y2="1841" stroke="#333" stroke-width="1.7" stroke-linecap="butt"/>
<line x1="975.6" y1="1825" x2="975.6" y2="1841" stroke="#000" stroke-width="1.5" stroke-linecap="butt"/>
<line x1="981.4" y1="1825" x2="981.4" y2="1841" stroke="#000" stroke-width="3.2" stroke-linecap="butt"/>
<line x1="986" y1="1825" x2="986" y2="1841" stroke="#000" stroke-width="1.5" stroke-linecap="butt"/>
<line x1="992.25" y1="1825" x2="992.25" y2="1841" stroke="#000" stroke-width="2" stroke-linecap="butt"/>
<line x1="998.6" y1="1825" x2="998.6" y2="1841" stroke="#000" stroke-width="0.9" stroke-linecap="butt"/>
<line x1="999.9" y1="1825" x2="999.9" y2="1841" stroke="#999" stroke-width="1.8" stroke-linecap="butt"/>
<line x1="1001.25" y1="1825" x2="1001.25" y2="1841" stroke="#000" stroke-width="1" stroke-linecap="butt"/>
<line x1="1004.4" y1="1825" x2="1004.4" y2="1841" stroke="#000" stroke-width="1.5" stroke-linecap="butt"/>
<line x1="1017.1" y1="1825" x2="1017.1" y2="1841" stroke="#000" stroke-width="1.5" stroke-linecap="butt"/>
<line x1="1026.5" y1="1825" x2="1026.5" y2="1841" stroke="#000" stroke-width="1.5" stroke-linecap="butt"/>
<line x1="1032" y1="1825" x2="1032" y2="1841" stroke="#000" stroke-width="1.5" stroke-linecap="butt"/>
<line x1="1035.5" y1="1825" x2="1035.5" y2="1841" stroke="#000" stroke-width="1.5" stroke-linecap="butt"/>
<line x1="1111.8" y1="1825" x2="1111.8" y2="1841" stroke="#000" stroke-width="1.5" stroke-linecap="butt"/>
<line x1="1262.9" y1="1825" x2="1262.9" y2="1841" stroke="#000" stroke-width="1.5" stroke-linecap="butt"/>
<line x1="1294.1" y1="1825" x2="1294.1" y2="1841" stroke="#000" stroke-width="1.5" stroke-linecap="butt"/>
<line x1="1303.4" y1="1825" x2="1303.4" y2="1841" stroke="#000" stroke-width="1.5" stroke-linecap="butt"/>
<line x1="1310.2" y1="1825" x2="1310.2" y2="1841" stroke="#000" stroke-width="1.5" stroke-linecap="butt"/>
<line x1="1314.4" y1="1825" x2="1314.4" y2="1841" stroke="#000" stroke-width="2.2" stroke-linecap="butt"/>
<line x1="1325.1" y1="1825" x2="1325.1" y2="1841" stroke="#000" stroke-width="1.5" stroke-linecap="butt"/>
<line x1="1354.1" y1="1825" x2="1354.1" y2="1841" stroke="#000" stroke-width="1.5" stroke-linecap="butt"/>
<line x1="1361" y1="1825" x2="1361" y2="1841" stroke="#000" stroke-width="1.5" stroke-linecap="butt"/>
<line x1="1370.3" y1="1825" x2="1370.3" y2="1841" stroke="#000" stroke-width="1.5" stroke-linecap="butt"/>
<line x1="1388.7" y1="1825" x2="1388.7" y2="1841" stroke="#000" stroke-width="1.5" stroke-linecap="butt"/>
<line x1="1396.9" y1="1825" x2="1396.9" y2="1841" stroke="#000" stroke-width="1.5" stroke-linecap="butt"/>
<line x1="1430.3" y1="1825" x2="1430.3" y2="1841" stroke="#000" stroke-width="1.5" stroke-linecap="butt"/>
<line x1="1441.1" y1="1825" x2="1441.1" y2="1841" stroke="#000" stroke-width="1.4" stroke-linecap="butt"/>
<line x1="1442.4" y1="1825" x2="1442.4" y2="1841" stroke="#aaa" stroke-width="1.4" stroke-linecap="butt"/>
<line x1="1443.7" y1="1825" x2="1443.7" y2="1841" stroke="#000" stroke-width="1.4" stroke-linecap="butt"/>
<line x1="1448.9" y1="1825" x2="1448.9" y2="1841" stroke="#000" stroke-width="1.5" stroke-linecap="butt"/>
<line x1="1454.6" y1="1825" x2="1454.6" y2="1841" stroke="#000" stroke-width="1.5" stroke-linecap="butt"/>
<line x1="1473.1" y1="1825" x2="1473.1" y2="1841" stroke="#000" stroke-width="1.5" stroke-linecap="butt"/>
<polyline points="881.52,1637.6 883.49,1633.15 885.47,1628.71 887.44,1624.31 889.42,1619.93 891.39,1615.59 893.37,1611.3 895.34,1607.05 897.32,1602.84 899.29,1598.69 901.27,1594.59 903.24,1590.55 905.22,1586.56 907.19,1582.64 909.17,1578.79 911.14,1575 913.12,1571.28 915.09,1567.63 917.07,1564.05 919.04,1560.54 921.02,1557.1 922.99,1553.74 924.97,1550.46 926.94,1547.25 928.92,1544.12 930.89,1541.07 932.87,1538.1 934.84,1535.2 936.82,1532.38 938.79,1529.63 940.77,1526.97 942.74,1524.38 944.72,1521.87 946.69,1519.43 948.67,1517.07 950.64,1514.79 952.62,1512.58 954.59,1510.44 956.57,1508.38 958.54,1506.39 960.52,1504.48 962.49,1502.64 964.47,1500.86 966.44,1499.16 968.42,1497.53 970.39,1495.96 972.37,1494.47 974.34,1493.04 976.32,1491.67 978.29,1490.38 980.27,1489.15 982.24,1487.98 984.22,1486.88 986.19,1485.84 988.17,1484.86 990.14,1483.95 992.12,1483.1 994.09,1482.31 996.07,1481.58 998.04,1480.91 1000.02,1480.3 1001.99,1479.74 1003.97,1479.25 1005.94,1478.82 1007.92,1478.44 1009.89,1478.13 1011.87,1477.87 1013.84,1477.67 1015.82,1477.53 1017.79,1477.44 1019.77,1477.41 1021.74,1477.44 1023.71,1477.53 1025.69,1477.68 1027.66,1477.88 1029.64,1478.14 1031.61,1478.46 1033.59,1478.84 1035.56,1479.27 1037.54,1479.77 1039.51,1480.32 1041.49,1480.93 1043.46,1481.6 1045.44,1482.34 1047.41,1483.13 1049.39,1483.99 1051.36,1484.9 1053.34,1485.88 1055.31,1486.92 1057.29,1488.03 1059.26,1489.2 1061.24,1490.43 1063.21,1491.73 1065.19,1493.09 1067.16,1494.53 1069.14,1496.02 1071.11,1497.59 1073.09,1499.23 1075.06,1500.93 1077.04,1502.71 1079.01,1504.56 1080.99,1506.47 1082.96,1508.47 1084.94,1510.53 1086.91,1512.67 1088.89,1514.88 1090.86,1517.17 1092.84,1519.53 1094.81,1521.97 1096.79,1524.48 1098.76,1527.07 1100.74,1529.74 1102.71,1532.49 1104.69,1535.31 1106.66,1538.21 1108.64,1541.19 1110.61,1544.25 1112.59,1547.38 1114.56,1550.59 1116.54,1553.88 1118.51,1557.24 1120.49,1560.68 1122.46,1564.19 1124.44,1567.77 1126.41,1571.43 1128.39,1575.15 1130.36,1578.94 1132.34,1582.8 1134.31,1586.73 1136.29,1590.71 1138.26,1594.75 1140.24,1598.86 1142.21,1603.01 1144.19,1607.22 1146.16,1611.47 1148.14,1615.77 1150.11,1620.11 1152.09,1624.48 1154.06,1628.89 1156.04,1633.33 1158.01,1637.79 1159.99,1642.26 1161.96,1646.76 1163.94,1651.26 1165.91,1655.77 1167.89,1660.28 1169.86,1664.78 1171.84,1669.27 1173.81,1673.75 1175.79,1678.2 1177.76,1682.63 1179.74,1687.03 1181.71,1691.39 1183.69,1695.71 1185.66,1699.99 1187.64,1704.21 1189.61,1708.38 1191.59,1712.49 1193.56,1716.54 1195.54,1720.52 1197.51,1724.43 1199.49,1728.26 1201.46,1732.01 1203.44,1735.68 1205.41,1739.27 1207.39,1742.78 1209.36,1746.19 1211.34,1749.51 1213.31,1752.74 1215.29,1755.88 1217.26,1758.93 1219.24,1761.88 1221.21,1764.73 1223.19,1767.49 1225.16,1770.15 1227.14,1772.72 1229.11,1775.19 1231.09,1777.57 1233.06,1779.86 1235.04,1782.05 1237.01,1784.16 1238.99,1786.17 1240.96,1788.1 1242.94,1789.94 1244.91,1791.7 1246.89,1793.38 1248.86,1794.98 1250.84,1796.51 1252.81,1797.96 1254.79,1799.33 1256.76,1800.64 1258.73,1801.88 1260.71,1803.05 1262.68,1804.16 1264.66,1805.21 1266.63,1806.21 1268.61,1807.15 1270.58,1808.03 1272.56,1808.86 1274.53,1809.65 1276.51,1810.39 1278.48,1811.08 1280.46,1811.74 1282.43,1812.35 1284.41,1812.92 1286.38,1813.46 1288.36,1813.97 1290.33,1814.44 1292.31,1814.88 1294.28,1815.29 1296.26,1815.68 1298.23,1816.04 1300.21,1816.37 1302.18,1816.68 1304.16,1816.97 1306.13,1817.24 1308.11,1817.5 1310.08,1817.73 1312.06,1817.95 1314.03,1818.15 1316.01,1818.34 1317.98,1818.51 1319.96,1818.67 1321.93,1818.82 1323.91,1818.95 1325.88,1819.08 1327.86,1819.2 1329.83,1819.31 1331.81,1819.41 1333.78,1819.5 1335.76,1819.58 1337.73,1819.66 1339.71,1819.73 1341.68,1819.8 1343.66,1819.86 1345.63,1819.92 1347.61,1819.97 1349.58,1820.01 1351.56,1820.06 1353.53,1820.1 1355.51,1820.13 1357.48,1820.17 1359.46,1820.2 1361.43,1820.22 1363.41,1820.25 1365.38,1820.27 1367.36,1820.29 1369.33,1820.31 1371.31,1820.33 1373.28,1820.35 1375.26,1820.36 1377.23,1820.37 1379.21,1820.39 1381.18,1820.4 1383.16,1820.41 1385.13,1820.42 1387.11,1820.42 1389.08,1820.43 1391.06,1820.44 1393.03,1820.45 1395.01,1820.45 1396.98,1820.46 1398.96,1820.46 1400.93,1820.46 1402.91,1820.47 1404.88,1820.47 1406.86,1820.47 1408.83,1820.48 1410.81,1820.48 1412.78,1820.48 1414.76,1820.48 1416.73,1820.49 1418.71,1820.49 1420.68,1820.49 1422.66,1820.49 1424.63,1820.49 1426.61,1820.49 1428.58,1820.49 1430.56,1820.49 1432.53,1820.49 1434.51,1820.49 1436.48,1820.5 1438.46,1820.5 1440.43,1820.5 1442.41,1820.5 1444.38,1820.5 1446.36,1820.5 1448.33,1820.5 1450.31,1820.5 1452.28,1820.5 1454.26,1820.5 1456.23,1820.5 1458.21,1820.5 1460.18,1820.5 1462.16,1820.5 1464.13,1820.5 1466.11,1820.5 1468.08,1820.5 1470.06,1820.5 1472.03,1820.5 1474.01,1820.5" fill="none" stroke="#000" stroke-width="3.4" stroke-linecap="round" stroke-linejoin="round"/>
<rect x="858" y="1308.9" width="638.3" height="532.1" fill="none" stroke="#000" stroke-width="1.8"/>
<text transform="translate(874.64 1362.93) scale(1.0020 1)" style="font-family:'Liberation Sans',sans-serif;font-size:45.15px;font-weight:bold">(f)</text>
<text transform="translate(942.38 1920.4) scale(1.1115 1)" style="font-family:'Liberation Sans',sans-serif;font-size:25.3px;font-weight:normal;stroke:#000;stroke-width:0.4px">Distance to the edge of plantation (m)</text>
<rect x="792.7" y="1600.4" width="1.6" height="2.4" fill="#111"/>
<rect x="792.6" y="1648.4" width="1.8" height="3.7" fill="#111"/>
<rect x="793.2" y="296" width="2" height="2" fill="#ddd"/>
<rect x="793.2" y="345.2" width="2" height="2" fill="#ddd"/>
<rect x="50" y="1600.8" width="1.6" height="2" fill="#e6e6e6"/>
<rect x="50" y="1649.8" width="1.6" height="2" fill="#e6e6e6"/>
</svg>
</body></html>
